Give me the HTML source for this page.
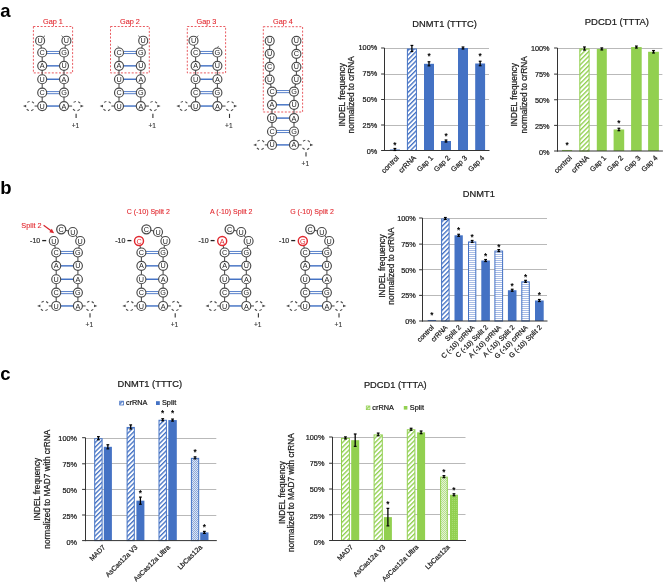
<!DOCTYPE html>
<html><head><meta charset="utf-8"><style>
html,body{margin:0;padding:0;background:#fff;}
svg{display:block;will-change:transform;filter:blur(0.4px);font-family:"Liberation Sans",sans-serif;}
</style></head><body>
<svg width="668" height="584" viewBox="0 0 668 584">
<rect width="668" height="584" fill="#fff"/>

<defs>
<pattern id="dB" width="3.3" height="3.3" patternUnits="userSpaceOnUse" patternTransform="rotate(45)"><rect width="1.35" height="3.3" fill="#4472c4"/></pattern>
<pattern id="dG" width="3.3" height="3.3" patternUnits="userSpaceOnUse" patternTransform="rotate(45)"><rect width="1.35" height="3.3" fill="#92d050"/></pattern>
<pattern id="hB" width="4" height="2" patternUnits="userSpaceOnUse"><rect width="4" height="1" fill="#a9bde6"/></pattern>
<pattern id="ckB" width="2" height="2" patternUnits="userSpaceOnUse"><rect width="2" height="2" fill="#dbe4f5"/><rect width="1" height="1" fill="#8eaadb"/><rect x="1" y="1" width="1" height="1" fill="#8eaadb"/></pattern>
<pattern id="ckG" width="2" height="2" patternUnits="userSpaceOnUse"><rect width="2" height="2" fill="#e4f3d5"/><rect width="1" height="1" fill="#b6e08c"/><rect x="1" y="1" width="1" height="1" fill="#b6e08c"/></pattern>
<pattern id="ckG2" width="2" height="2" patternUnits="userSpaceOnUse"><rect width="2" height="2" fill="#92d050"/><rect width="1" height="1" fill="#a7da72"/></pattern>
</defs>

<text x="0.3" y="17.2" font-size="18.5" fill="#000" text-anchor="start" font-weight="bold"  >a</text>
<text x="0.3" y="193.6" font-size="18.5" fill="#000" text-anchor="start" font-weight="bold"  >b</text>
<text x="0.3" y="380.2" font-size="18.5" fill="#000" text-anchor="start" font-weight="bold"  >c</text>
<rect x="33.4" y="26.5" width="39.2" height="46.4" fill="none" stroke="#e2282f" stroke-width="0.9" stroke-dasharray="2,1.6" opacity="0.85"/>
<text x="53" y="23.5" font-size="7.3" fill="#e2282f" text-anchor="middle" font-weight="normal" stroke="#e2282f" stroke-width="0.1" >Gap 1</text>
<line x1="34.6" y1="106.05" x2="42.2" y2="106.05" stroke="#4a4a4a" stroke-width="1.05" />
<line x1="72.1" y1="106.05" x2="64" y2="106.05" stroke="#4a4a4a" stroke-width="1.05" />
<circle cx="30.2" cy="106.05" r="4.65" fill="none" stroke="#4a4a4a" stroke-width="1.1" stroke-dasharray="2.43,2.43,2.43,7.3" stroke-dashoffset="-3.65"/>
<path d="M22.9,106.05 L26.2,104.7 L26.2,107.4 Z" fill="#4a4a4a"/>
<circle cx="76.5" cy="106.05" r="4.65" fill="none" stroke="#4a4a4a" stroke-width="1.1" stroke-dasharray="2.43,2.43,2.43,7.3" stroke-dashoffset="-3.65"/>
<path d="M83.8,106.05 L80.5,104.7 L80.5,107.4 Z" fill="#4a4a4a"/>
<line x1="40.1" y1="40.7" x2="42.2" y2="52.5" stroke="#4a4a4a" stroke-width="1.05" />
<line x1="66.4" y1="40.7" x2="64" y2="52.5" stroke="#4a4a4a" stroke-width="1.05" />
<line x1="42.2" y1="52.5" x2="42.2" y2="65.85" stroke="#4a4a4a" stroke-width="1.05" />
<line x1="64" y1="52.5" x2="64" y2="65.85" stroke="#4a4a4a" stroke-width="1.05" />
<line x1="42.2" y1="65.85" x2="42.2" y2="79.25" stroke="#4a4a4a" stroke-width="1.05" />
<line x1="64" y1="65.85" x2="64" y2="79.25" stroke="#4a4a4a" stroke-width="1.05" />
<line x1="42.2" y1="79.25" x2="42.2" y2="92.65" stroke="#4a4a4a" stroke-width="1.05" />
<line x1="64" y1="79.25" x2="64" y2="92.65" stroke="#4a4a4a" stroke-width="1.05" />
<line x1="42.2" y1="92.65" x2="42.2" y2="106.05" stroke="#4a4a4a" stroke-width="1.05" />
<line x1="64" y1="92.65" x2="64" y2="106.05" stroke="#4a4a4a" stroke-width="1.05" />
<line x1="46.7" y1="51.45" x2="59.5" y2="51.45" stroke="#4472c4" stroke-width="0.9" />
<line x1="46.7" y1="53.55" x2="59.5" y2="53.55" stroke="#4472c4" stroke-width="0.9" />
<line x1="46.7" y1="65.85" x2="59.5" y2="65.85" stroke="#4472c4" stroke-width="1.45" />
<line x1="46.7" y1="79.25" x2="59.5" y2="79.25" stroke="#4472c4" stroke-width="1.45" />
<line x1="46.7" y1="91.6" x2="59.5" y2="91.6" stroke="#4472c4" stroke-width="0.9" />
<line x1="46.7" y1="93.7" x2="59.5" y2="93.7" stroke="#4472c4" stroke-width="0.9" />
<line x1="46.7" y1="106.05" x2="59.5" y2="106.05" stroke="#4472c4" stroke-width="1.45" />
<circle cx="42.2" cy="52.5" r="4.5" fill="#fff" stroke="#4a4a4a" stroke-width="1.15"/>
<text x="42.2" y="55.05" font-size="7.25" fill="#1e1e1e" text-anchor="middle">C</text>
<circle cx="64" cy="52.5" r="4.5" fill="#fff" stroke="#4a4a4a" stroke-width="1.15"/>
<text x="64" y="55.05" font-size="7.25" fill="#1e1e1e" text-anchor="middle">G</text>
<circle cx="42.2" cy="65.85" r="4.5" fill="#fff" stroke="#4a4a4a" stroke-width="1.15"/>
<text x="42.2" y="68.4" font-size="7.25" fill="#1e1e1e" text-anchor="middle">A</text>
<circle cx="64" cy="65.85" r="4.5" fill="#fff" stroke="#4a4a4a" stroke-width="1.15"/>
<text x="64" y="68.4" font-size="7.25" fill="#1e1e1e" text-anchor="middle">U</text>
<circle cx="42.2" cy="79.25" r="4.5" fill="#fff" stroke="#4a4a4a" stroke-width="1.15"/>
<text x="42.2" y="81.8" font-size="7.25" fill="#1e1e1e" text-anchor="middle">U</text>
<circle cx="64" cy="79.25" r="4.5" fill="#fff" stroke="#4a4a4a" stroke-width="1.15"/>
<text x="64" y="81.8" font-size="7.25" fill="#1e1e1e" text-anchor="middle">A</text>
<circle cx="42.2" cy="92.65" r="4.5" fill="#fff" stroke="#4a4a4a" stroke-width="1.15"/>
<text x="42.2" y="95.2" font-size="7.25" fill="#1e1e1e" text-anchor="middle">C</text>
<circle cx="64" cy="92.65" r="4.5" fill="#fff" stroke="#4a4a4a" stroke-width="1.15"/>
<text x="64" y="95.2" font-size="7.25" fill="#1e1e1e" text-anchor="middle">G</text>
<circle cx="42.2" cy="106.05" r="4.5" fill="#fff" stroke="#4a4a4a" stroke-width="1.15"/>
<text x="42.2" y="108.6" font-size="7.25" fill="#1e1e1e" text-anchor="middle">U</text>
<circle cx="64" cy="106.05" r="4.5" fill="#fff" stroke="#4a4a4a" stroke-width="1.15"/>
<text x="64" y="108.6" font-size="7.25" fill="#1e1e1e" text-anchor="middle">A</text>
<circle cx="40.1" cy="40.7" r="4.5" fill="#fff" stroke="#4a4a4a" stroke-width="1.15"/>
<text x="40.1" y="43.25" font-size="7.25" fill="#1e1e1e" text-anchor="middle">U</text>
<path d="M43.3,37.3 q0.8,-0.96 1.6,-1.6" fill="none" stroke="#4a4a4a" stroke-width="0.9"/>
<circle cx="66.4" cy="40.7" r="4.5" fill="#fff" stroke="#4a4a4a" stroke-width="1.15"/>
<text x="66.4" y="43.25" font-size="7.25" fill="#1e1e1e" text-anchor="middle">U</text>
<path d="M63.2,37.3 q-0.8,-0.96 -1.6,-1.6" fill="none" stroke="#4a4a4a" stroke-width="0.9"/>
<line x1="76.1" y1="113.8" x2="76.1" y2="118" stroke="#333" stroke-width="1.1" />
<text x="75.4" y="127.6" font-size="6.6" fill="#333" text-anchor="middle" font-weight="normal" stroke="#333" stroke-width="0.12" >+1</text>
<rect x="110.5" y="26.5" width="38.8" height="46.4" fill="none" stroke="#e2282f" stroke-width="0.9" stroke-dasharray="2,1.6" opacity="0.85"/>
<text x="129.9" y="23.5" font-size="7.3" fill="#e2282f" text-anchor="middle" font-weight="normal" stroke="#e2282f" stroke-width="0.1" >Gap 2</text>
<line x1="111.4" y1="106.05" x2="119" y2="106.05" stroke="#4a4a4a" stroke-width="1.05" />
<line x1="148.9" y1="106.05" x2="140.8" y2="106.05" stroke="#4a4a4a" stroke-width="1.05" />
<circle cx="107" cy="106.05" r="4.65" fill="none" stroke="#4a4a4a" stroke-width="1.1" stroke-dasharray="2.43,2.43,2.43,7.3" stroke-dashoffset="-3.65"/>
<path d="M99.7,106.05 L103,104.7 L103,107.4 Z" fill="#4a4a4a"/>
<circle cx="153.3" cy="106.05" r="4.65" fill="none" stroke="#4a4a4a" stroke-width="1.1" stroke-dasharray="2.43,2.43,2.43,7.3" stroke-dashoffset="-3.65"/>
<path d="M160.6,106.05 L157.3,104.7 L157.3,107.4 Z" fill="#4a4a4a"/>
<line x1="143.2" y1="40.7" x2="140.8" y2="52.5" stroke="#4a4a4a" stroke-width="1.05" />
<line x1="119" y1="52.5" x2="119" y2="65.85" stroke="#4a4a4a" stroke-width="1.05" />
<line x1="140.8" y1="52.5" x2="140.8" y2="65.85" stroke="#4a4a4a" stroke-width="1.05" />
<line x1="119" y1="65.85" x2="119" y2="79.25" stroke="#4a4a4a" stroke-width="1.05" />
<line x1="140.8" y1="65.85" x2="140.8" y2="79.25" stroke="#4a4a4a" stroke-width="1.05" />
<line x1="119" y1="79.25" x2="119" y2="92.65" stroke="#4a4a4a" stroke-width="1.05" />
<line x1="140.8" y1="79.25" x2="140.8" y2="92.65" stroke="#4a4a4a" stroke-width="1.05" />
<line x1="119" y1="92.65" x2="119" y2="106.05" stroke="#4a4a4a" stroke-width="1.05" />
<line x1="140.8" y1="92.65" x2="140.8" y2="106.05" stroke="#4a4a4a" stroke-width="1.05" />
<line x1="123.5" y1="51.45" x2="136.3" y2="51.45" stroke="#4472c4" stroke-width="0.9" />
<line x1="123.5" y1="53.55" x2="136.3" y2="53.55" stroke="#4472c4" stroke-width="0.9" />
<line x1="123.5" y1="65.85" x2="136.3" y2="65.85" stroke="#4472c4" stroke-width="1.45" />
<line x1="123.5" y1="79.25" x2="136.3" y2="79.25" stroke="#4472c4" stroke-width="1.45" />
<line x1="123.5" y1="91.6" x2="136.3" y2="91.6" stroke="#4472c4" stroke-width="0.9" />
<line x1="123.5" y1="93.7" x2="136.3" y2="93.7" stroke="#4472c4" stroke-width="0.9" />
<line x1="123.5" y1="106.05" x2="136.3" y2="106.05" stroke="#4472c4" stroke-width="1.45" />
<circle cx="119" cy="52.5" r="4.5" fill="#fff" stroke="#4a4a4a" stroke-width="1.15"/>
<text x="119" y="55.05" font-size="7.25" fill="#1e1e1e" text-anchor="middle">C</text>
<circle cx="140.8" cy="52.5" r="4.5" fill="#fff" stroke="#4a4a4a" stroke-width="1.15"/>
<text x="140.8" y="55.05" font-size="7.25" fill="#1e1e1e" text-anchor="middle">G</text>
<circle cx="119" cy="65.85" r="4.5" fill="#fff" stroke="#4a4a4a" stroke-width="1.15"/>
<text x="119" y="68.4" font-size="7.25" fill="#1e1e1e" text-anchor="middle">A</text>
<circle cx="140.8" cy="65.85" r="4.5" fill="#fff" stroke="#4a4a4a" stroke-width="1.15"/>
<text x="140.8" y="68.4" font-size="7.25" fill="#1e1e1e" text-anchor="middle">U</text>
<circle cx="119" cy="79.25" r="4.5" fill="#fff" stroke="#4a4a4a" stroke-width="1.15"/>
<text x="119" y="81.8" font-size="7.25" fill="#1e1e1e" text-anchor="middle">U</text>
<circle cx="140.8" cy="79.25" r="4.5" fill="#fff" stroke="#4a4a4a" stroke-width="1.15"/>
<text x="140.8" y="81.8" font-size="7.25" fill="#1e1e1e" text-anchor="middle">A</text>
<circle cx="119" cy="92.65" r="4.5" fill="#fff" stroke="#4a4a4a" stroke-width="1.15"/>
<text x="119" y="95.2" font-size="7.25" fill="#1e1e1e" text-anchor="middle">C</text>
<circle cx="140.8" cy="92.65" r="4.5" fill="#fff" stroke="#4a4a4a" stroke-width="1.15"/>
<text x="140.8" y="95.2" font-size="7.25" fill="#1e1e1e" text-anchor="middle">G</text>
<circle cx="119" cy="106.05" r="4.5" fill="#fff" stroke="#4a4a4a" stroke-width="1.15"/>
<text x="119" y="108.6" font-size="7.25" fill="#1e1e1e" text-anchor="middle">U</text>
<circle cx="140.8" cy="106.05" r="4.5" fill="#fff" stroke="#4a4a4a" stroke-width="1.15"/>
<text x="140.8" y="108.6" font-size="7.25" fill="#1e1e1e" text-anchor="middle">A</text>
<path d="M119.5,47.9 q-0.9,-0.96 -1.8,-1.6" fill="none" stroke="#4a4a4a" stroke-width="0.9"/>
<circle cx="143.2" cy="40.7" r="4.5" fill="#fff" stroke="#4a4a4a" stroke-width="1.15"/>
<text x="143.2" y="43.25" font-size="7.25" fill="#1e1e1e" text-anchor="middle">U</text>
<path d="M140,37.3 q-0.8,-0.96 -1.6,-1.6" fill="none" stroke="#4a4a4a" stroke-width="0.9"/>
<line x1="152.9" y1="113.8" x2="152.9" y2="118" stroke="#333" stroke-width="1.1" />
<text x="152.2" y="127.6" font-size="6.6" fill="#333" text-anchor="middle" font-weight="normal" stroke="#333" stroke-width="0.12" >+1</text>
<rect x="187.3" y="26.5" width="38.3" height="46.4" fill="none" stroke="#e2282f" stroke-width="0.9" stroke-dasharray="2,1.6" opacity="0.85"/>
<text x="206.45" y="23.5" font-size="7.3" fill="#e2282f" text-anchor="middle" font-weight="normal" stroke="#e2282f" stroke-width="0.1" >Gap 3</text>
<line x1="188" y1="106.05" x2="195.6" y2="106.05" stroke="#4a4a4a" stroke-width="1.05" />
<line x1="225.5" y1="106.05" x2="217.4" y2="106.05" stroke="#4a4a4a" stroke-width="1.05" />
<circle cx="183.6" cy="106.05" r="4.65" fill="none" stroke="#4a4a4a" stroke-width="1.1" stroke-dasharray="2.43,2.43,2.43,7.3" stroke-dashoffset="-3.65"/>
<path d="M176.3,106.05 L179.6,104.7 L179.6,107.4 Z" fill="#4a4a4a"/>
<circle cx="229.9" cy="106.05" r="4.65" fill="none" stroke="#4a4a4a" stroke-width="1.1" stroke-dasharray="2.43,2.43,2.43,7.3" stroke-dashoffset="-3.65"/>
<path d="M237.2,106.05 L233.9,104.7 L233.9,107.4 Z" fill="#4a4a4a"/>
<line x1="193.5" y1="40.7" x2="195.6" y2="52.5" stroke="#4a4a4a" stroke-width="1.05" />
<line x1="195.6" y1="52.5" x2="195.6" y2="65.85" stroke="#4a4a4a" stroke-width="1.05" />
<line x1="217.4" y1="52.5" x2="217.4" y2="65.85" stroke="#4a4a4a" stroke-width="1.05" />
<line x1="195.6" y1="65.85" x2="195.6" y2="79.25" stroke="#4a4a4a" stroke-width="1.05" />
<line x1="217.4" y1="65.85" x2="217.4" y2="79.25" stroke="#4a4a4a" stroke-width="1.05" />
<line x1="195.6" y1="79.25" x2="195.6" y2="92.65" stroke="#4a4a4a" stroke-width="1.05" />
<line x1="217.4" y1="79.25" x2="217.4" y2="92.65" stroke="#4a4a4a" stroke-width="1.05" />
<line x1="195.6" y1="92.65" x2="195.6" y2="106.05" stroke="#4a4a4a" stroke-width="1.05" />
<line x1="217.4" y1="92.65" x2="217.4" y2="106.05" stroke="#4a4a4a" stroke-width="1.05" />
<line x1="200.1" y1="51.45" x2="212.9" y2="51.45" stroke="#4472c4" stroke-width="0.9" />
<line x1="200.1" y1="53.55" x2="212.9" y2="53.55" stroke="#4472c4" stroke-width="0.9" />
<line x1="200.1" y1="65.85" x2="212.9" y2="65.85" stroke="#4472c4" stroke-width="1.45" />
<line x1="200.1" y1="79.25" x2="212.9" y2="79.25" stroke="#4472c4" stroke-width="1.45" />
<line x1="200.1" y1="91.6" x2="212.9" y2="91.6" stroke="#4472c4" stroke-width="0.9" />
<line x1="200.1" y1="93.7" x2="212.9" y2="93.7" stroke="#4472c4" stroke-width="0.9" />
<line x1="200.1" y1="106.05" x2="212.9" y2="106.05" stroke="#4472c4" stroke-width="1.45" />
<circle cx="195.6" cy="52.5" r="4.5" fill="#fff" stroke="#4a4a4a" stroke-width="1.15"/>
<text x="195.6" y="55.05" font-size="7.25" fill="#1e1e1e" text-anchor="middle">C</text>
<circle cx="217.4" cy="52.5" r="4.5" fill="#fff" stroke="#4a4a4a" stroke-width="1.15"/>
<text x="217.4" y="55.05" font-size="7.25" fill="#1e1e1e" text-anchor="middle">G</text>
<circle cx="195.6" cy="65.85" r="4.5" fill="#fff" stroke="#4a4a4a" stroke-width="1.15"/>
<text x="195.6" y="68.4" font-size="7.25" fill="#1e1e1e" text-anchor="middle">A</text>
<circle cx="217.4" cy="65.85" r="4.5" fill="#fff" stroke="#4a4a4a" stroke-width="1.15"/>
<text x="217.4" y="68.4" font-size="7.25" fill="#1e1e1e" text-anchor="middle">U</text>
<circle cx="195.6" cy="79.25" r="4.5" fill="#fff" stroke="#4a4a4a" stroke-width="1.15"/>
<text x="195.6" y="81.8" font-size="7.25" fill="#1e1e1e" text-anchor="middle">U</text>
<circle cx="217.4" cy="79.25" r="4.5" fill="#fff" stroke="#4a4a4a" stroke-width="1.15"/>
<text x="217.4" y="81.8" font-size="7.25" fill="#1e1e1e" text-anchor="middle">A</text>
<circle cx="195.6" cy="92.65" r="4.5" fill="#fff" stroke="#4a4a4a" stroke-width="1.15"/>
<text x="195.6" y="95.2" font-size="7.25" fill="#1e1e1e" text-anchor="middle">C</text>
<circle cx="217.4" cy="92.65" r="4.5" fill="#fff" stroke="#4a4a4a" stroke-width="1.15"/>
<text x="217.4" y="95.2" font-size="7.25" fill="#1e1e1e" text-anchor="middle">G</text>
<circle cx="195.6" cy="106.05" r="4.5" fill="#fff" stroke="#4a4a4a" stroke-width="1.15"/>
<text x="195.6" y="108.6" font-size="7.25" fill="#1e1e1e" text-anchor="middle">U</text>
<circle cx="217.4" cy="106.05" r="4.5" fill="#fff" stroke="#4a4a4a" stroke-width="1.15"/>
<text x="217.4" y="108.6" font-size="7.25" fill="#1e1e1e" text-anchor="middle">A</text>
<circle cx="193.5" cy="40.7" r="4.5" fill="#fff" stroke="#4a4a4a" stroke-width="1.15"/>
<text x="193.5" y="43.25" font-size="7.25" fill="#1e1e1e" text-anchor="middle">U</text>
<path d="M196.7,37.3 q0.8,-0.96 1.6,-1.6" fill="none" stroke="#4a4a4a" stroke-width="0.9"/>
<path d="M216.9,47.9 q0.9,-0.96 1.8,-1.6" fill="none" stroke="#4a4a4a" stroke-width="0.9"/>
<line x1="229.5" y1="113.8" x2="229.5" y2="118" stroke="#333" stroke-width="1.1" />
<text x="228.8" y="127.6" font-size="6.6" fill="#333" text-anchor="middle" font-weight="normal" stroke="#333" stroke-width="0.12" >+1</text>
<rect x="263.3" y="26.7" width="39.3" height="85.3" fill="none" stroke="#e2282f" stroke-width="0.9" stroke-dasharray="2,1.6" opacity="0.85"/>
<text x="283" y="23.5" font-size="7.3" fill="#e2282f" text-anchor="middle" font-weight="normal" stroke="#e2282f" stroke-width="0.1" >Gap 4</text>
<line x1="264.8" y1="144.9" x2="272" y2="144.9" stroke="#4a4a4a" stroke-width="1.05" />
<line x1="301.6" y1="144.9" x2="294" y2="144.9" stroke="#4a4a4a" stroke-width="1.05" />
<circle cx="260.4" cy="144.9" r="4.65" fill="none" stroke="#4a4a4a" stroke-width="1.1" stroke-dasharray="2.43,2.43,2.43,7.3" stroke-dashoffset="-3.65"/>
<path d="M253.1,144.9 L256.4,143.55 L256.4,146.25 Z" fill="#4a4a4a"/>
<circle cx="306" cy="144.9" r="4.65" fill="none" stroke="#4a4a4a" stroke-width="1.1" stroke-dasharray="2.43,2.43,2.43,7.3" stroke-dashoffset="-3.65"/>
<path d="M313.3,144.9 L310,143.55 L310,146.25 Z" fill="#4a4a4a"/>
<line x1="269.7" y1="40.8" x2="269.7" y2="53.8" stroke="#4a4a4a" stroke-width="1.05" />
<line x1="296.4" y1="40.8" x2="296.4" y2="53.8" stroke="#4a4a4a" stroke-width="1.05" />
<line x1="269.7" y1="53.8" x2="269.7" y2="66.8" stroke="#4a4a4a" stroke-width="1.05" />
<line x1="296.4" y1="53.8" x2="296.4" y2="66.8" stroke="#4a4a4a" stroke-width="1.05" />
<line x1="269.7" y1="66.8" x2="269.7" y2="79.6" stroke="#4a4a4a" stroke-width="1.05" />
<line x1="296.4" y1="66.8" x2="296.4" y2="79.6" stroke="#4a4a4a" stroke-width="1.05" />
<line x1="269.7" y1="79.6" x2="272" y2="91.6" stroke="#4a4a4a" stroke-width="1.05" />
<line x1="296.4" y1="79.6" x2="294" y2="91.6" stroke="#4a4a4a" stroke-width="1.05" />
<line x1="272" y1="91.6" x2="272" y2="104.8" stroke="#4a4a4a" stroke-width="1.05" />
<line x1="294" y1="91.6" x2="294" y2="104.8" stroke="#4a4a4a" stroke-width="1.05" />
<line x1="272" y1="104.8" x2="272" y2="118.1" stroke="#4a4a4a" stroke-width="1.05" />
<line x1="294" y1="104.8" x2="294" y2="118.1" stroke="#4a4a4a" stroke-width="1.05" />
<line x1="272" y1="118.1" x2="272" y2="131.5" stroke="#4a4a4a" stroke-width="1.05" />
<line x1="294" y1="118.1" x2="294" y2="131.5" stroke="#4a4a4a" stroke-width="1.05" />
<line x1="272" y1="131.5" x2="272" y2="144.9" stroke="#4a4a4a" stroke-width="1.05" />
<line x1="294" y1="131.5" x2="294" y2="144.9" stroke="#4a4a4a" stroke-width="1.05" />
<line x1="276.5" y1="90.55" x2="289.5" y2="90.55" stroke="#4472c4" stroke-width="0.9" />
<line x1="276.5" y1="92.65" x2="289.5" y2="92.65" stroke="#4472c4" stroke-width="0.9" />
<line x1="276.5" y1="104.8" x2="289.5" y2="104.8" stroke="#4472c4" stroke-width="1.45" />
<line x1="276.5" y1="118.1" x2="289.5" y2="118.1" stroke="#4472c4" stroke-width="1.45" />
<line x1="276.5" y1="130.45" x2="289.5" y2="130.45" stroke="#4472c4" stroke-width="0.9" />
<line x1="276.5" y1="132.55" x2="289.5" y2="132.55" stroke="#4472c4" stroke-width="0.9" />
<line x1="276.5" y1="144.9" x2="289.5" y2="144.9" stroke="#4472c4" stroke-width="1.45" />
<circle cx="269.7" cy="40.8" r="4.5" fill="#fff" stroke="#4a4a4a" stroke-width="1.15"/>
<text x="269.7" y="43.35" font-size="7.25" fill="#1e1e1e" text-anchor="middle">U</text>
<circle cx="269.7" cy="53.8" r="4.5" fill="#fff" stroke="#4a4a4a" stroke-width="1.15"/>
<text x="269.7" y="56.35" font-size="7.25" fill="#1e1e1e" text-anchor="middle">U</text>
<circle cx="269.7" cy="66.8" r="4.5" fill="#fff" stroke="#4a4a4a" stroke-width="1.15"/>
<text x="269.7" y="69.35" font-size="7.25" fill="#1e1e1e" text-anchor="middle">C</text>
<circle cx="269.7" cy="79.6" r="4.5" fill="#fff" stroke="#4a4a4a" stroke-width="1.15"/>
<text x="269.7" y="82.15" font-size="7.25" fill="#1e1e1e" text-anchor="middle">U</text>
<circle cx="296.4" cy="40.8" r="4.5" fill="#fff" stroke="#4a4a4a" stroke-width="1.15"/>
<text x="296.4" y="43.35" font-size="7.25" fill="#1e1e1e" text-anchor="middle">U</text>
<circle cx="296.4" cy="53.8" r="4.5" fill="#fff" stroke="#4a4a4a" stroke-width="1.15"/>
<text x="296.4" y="56.35" font-size="7.25" fill="#1e1e1e" text-anchor="middle">C</text>
<circle cx="296.4" cy="66.8" r="4.5" fill="#fff" stroke="#4a4a4a" stroke-width="1.15"/>
<text x="296.4" y="69.35" font-size="7.25" fill="#1e1e1e" text-anchor="middle">U</text>
<circle cx="296.4" cy="79.6" r="4.5" fill="#fff" stroke="#4a4a4a" stroke-width="1.15"/>
<text x="296.4" y="82.15" font-size="7.25" fill="#1e1e1e" text-anchor="middle">U</text>
<circle cx="272" cy="91.6" r="4.5" fill="#fff" stroke="#4a4a4a" stroke-width="1.15"/>
<text x="272" y="94.15" font-size="7.25" fill="#1e1e1e" text-anchor="middle">C</text>
<circle cx="294" cy="91.6" r="4.5" fill="#fff" stroke="#4a4a4a" stroke-width="1.15"/>
<text x="294" y="94.15" font-size="7.25" fill="#1e1e1e" text-anchor="middle">G</text>
<circle cx="272" cy="104.8" r="4.5" fill="#fff" stroke="#4a4a4a" stroke-width="1.15"/>
<text x="272" y="107.35" font-size="7.25" fill="#1e1e1e" text-anchor="middle">A</text>
<circle cx="294" cy="104.8" r="4.5" fill="#fff" stroke="#4a4a4a" stroke-width="1.15"/>
<text x="294" y="107.35" font-size="7.25" fill="#1e1e1e" text-anchor="middle">U</text>
<circle cx="272" cy="118.1" r="4.5" fill="#fff" stroke="#4a4a4a" stroke-width="1.15"/>
<text x="272" y="120.65" font-size="7.25" fill="#1e1e1e" text-anchor="middle">U</text>
<circle cx="294" cy="118.1" r="4.5" fill="#fff" stroke="#4a4a4a" stroke-width="1.15"/>
<text x="294" y="120.65" font-size="7.25" fill="#1e1e1e" text-anchor="middle">A</text>
<circle cx="272" cy="131.5" r="4.5" fill="#fff" stroke="#4a4a4a" stroke-width="1.15"/>
<text x="272" y="134.05" font-size="7.25" fill="#1e1e1e" text-anchor="middle">C</text>
<circle cx="294" cy="131.5" r="4.5" fill="#fff" stroke="#4a4a4a" stroke-width="1.15"/>
<text x="294" y="134.05" font-size="7.25" fill="#1e1e1e" text-anchor="middle">G</text>
<circle cx="272" cy="144.9" r="4.5" fill="#fff" stroke="#4a4a4a" stroke-width="1.15"/>
<text x="272" y="147.45" font-size="7.25" fill="#1e1e1e" text-anchor="middle">U</text>
<circle cx="294" cy="144.9" r="4.5" fill="#fff" stroke="#4a4a4a" stroke-width="1.15"/>
<text x="294" y="147.45" font-size="7.25" fill="#1e1e1e" text-anchor="middle">A</text>
<line x1="306" y1="152.3" x2="306" y2="156.5" stroke="#333" stroke-width="1.1" />
<text x="305.3" y="166" font-size="6.6" fill="#333" text-anchor="middle" font-weight="normal" stroke="#333" stroke-width="0.12" >+1</text>
<line x1="48.8" y1="305.95" x2="56.2" y2="305.95" stroke="#4a4a4a" stroke-width="1.05" />
<line x1="85.6" y1="305.95" x2="77.9" y2="305.95" stroke="#4a4a4a" stroke-width="1.05" />
<circle cx="44.4" cy="305.95" r="4.65" fill="none" stroke="#4a4a4a" stroke-width="1.1" stroke-dasharray="2.43,2.43,2.43,7.3" stroke-dashoffset="-3.65"/>
<path d="M37.1,305.95 L40.4,304.6 L40.4,307.3 Z" fill="#4a4a4a"/>
<circle cx="90" cy="305.95" r="4.65" fill="none" stroke="#4a4a4a" stroke-width="1.1" stroke-dasharray="2.43,2.43,2.43,7.3" stroke-dashoffset="-3.65"/>
<path d="M97.3,305.95 L94,304.6 L94,307.3 Z" fill="#4a4a4a"/>
<line x1="53.8" y1="241" x2="56.2" y2="252.5" stroke="#4a4a4a" stroke-width="1.05" />
<line x1="61.2" y1="229.3" x2="72.8" y2="232" stroke="#4a4a4a" stroke-width="1.05" />
<line x1="72.8" y1="232" x2="80.2" y2="241" stroke="#4a4a4a" stroke-width="1.05" />
<line x1="80.2" y1="241" x2="77.9" y2="252.5" stroke="#4a4a4a" stroke-width="1.05" />
<line x1="56.2" y1="252.5" x2="56.2" y2="265.85" stroke="#4a4a4a" stroke-width="1.05" />
<line x1="77.9" y1="252.5" x2="77.9" y2="265.85" stroke="#4a4a4a" stroke-width="1.05" />
<line x1="56.2" y1="265.85" x2="56.2" y2="279.25" stroke="#4a4a4a" stroke-width="1.05" />
<line x1="77.9" y1="265.85" x2="77.9" y2="279.25" stroke="#4a4a4a" stroke-width="1.05" />
<line x1="56.2" y1="279.25" x2="56.2" y2="292.6" stroke="#4a4a4a" stroke-width="1.05" />
<line x1="77.9" y1="279.25" x2="77.9" y2="292.6" stroke="#4a4a4a" stroke-width="1.05" />
<line x1="56.2" y1="292.6" x2="56.2" y2="305.95" stroke="#4a4a4a" stroke-width="1.05" />
<line x1="77.9" y1="292.6" x2="77.9" y2="305.95" stroke="#4a4a4a" stroke-width="1.05" />
<line x1="60.7" y1="251.45" x2="73.4" y2="251.45" stroke="#4472c4" stroke-width="0.9" />
<line x1="60.7" y1="253.55" x2="73.4" y2="253.55" stroke="#4472c4" stroke-width="0.9" />
<line x1="60.7" y1="265.85" x2="73.4" y2="265.85" stroke="#4472c4" stroke-width="1.45" />
<line x1="60.7" y1="279.25" x2="73.4" y2="279.25" stroke="#4472c4" stroke-width="1.45" />
<line x1="60.7" y1="291.55" x2="73.4" y2="291.55" stroke="#4472c4" stroke-width="0.9" />
<line x1="60.7" y1="293.65" x2="73.4" y2="293.65" stroke="#4472c4" stroke-width="0.9" />
<line x1="60.7" y1="305.95" x2="73.4" y2="305.95" stroke="#4472c4" stroke-width="1.45" />
<circle cx="56.2" cy="252.5" r="4.5" fill="#fff" stroke="#4a4a4a" stroke-width="1.15"/>
<text x="56.2" y="255.05" font-size="7.25" fill="#1e1e1e" text-anchor="middle">C</text>
<circle cx="77.9" cy="252.5" r="4.5" fill="#fff" stroke="#4a4a4a" stroke-width="1.15"/>
<text x="77.9" y="255.05" font-size="7.25" fill="#1e1e1e" text-anchor="middle">G</text>
<circle cx="56.2" cy="265.85" r="4.5" fill="#fff" stroke="#4a4a4a" stroke-width="1.15"/>
<text x="56.2" y="268.4" font-size="7.25" fill="#1e1e1e" text-anchor="middle">A</text>
<circle cx="77.9" cy="265.85" r="4.5" fill="#fff" stroke="#4a4a4a" stroke-width="1.15"/>
<text x="77.9" y="268.4" font-size="7.25" fill="#1e1e1e" text-anchor="middle">U</text>
<circle cx="56.2" cy="279.25" r="4.5" fill="#fff" stroke="#4a4a4a" stroke-width="1.15"/>
<text x="56.2" y="281.8" font-size="7.25" fill="#1e1e1e" text-anchor="middle">U</text>
<circle cx="77.9" cy="279.25" r="4.5" fill="#fff" stroke="#4a4a4a" stroke-width="1.15"/>
<text x="77.9" y="281.8" font-size="7.25" fill="#1e1e1e" text-anchor="middle">A</text>
<circle cx="56.2" cy="292.6" r="4.5" fill="#fff" stroke="#4a4a4a" stroke-width="1.15"/>
<text x="56.2" y="295.15" font-size="7.25" fill="#1e1e1e" text-anchor="middle">C</text>
<circle cx="77.9" cy="292.6" r="4.5" fill="#fff" stroke="#4a4a4a" stroke-width="1.15"/>
<text x="77.9" y="295.15" font-size="7.25" fill="#1e1e1e" text-anchor="middle">G</text>
<circle cx="56.2" cy="305.95" r="4.5" fill="#fff" stroke="#4a4a4a" stroke-width="1.15"/>
<text x="56.2" y="308.5" font-size="7.25" fill="#1e1e1e" text-anchor="middle">U</text>
<circle cx="77.9" cy="305.95" r="4.5" fill="#fff" stroke="#4a4a4a" stroke-width="1.15"/>
<text x="77.9" y="308.5" font-size="7.25" fill="#1e1e1e" text-anchor="middle">A</text>
<circle cx="61.2" cy="229.3" r="4.5" fill="#fff" stroke="#4a4a4a" stroke-width="1.3"/>
<text x="61.2" y="231.85" font-size="7.25" fill="#1e1e1e" text-anchor="middle">C</text>
<circle cx="72.8" cy="232" r="4.5" fill="#fff" stroke="#4a4a4a" stroke-width="1.15"/>
<text x="72.8" y="234.55" font-size="7.25" fill="#1e1e1e" text-anchor="middle">U</text>
<circle cx="80.2" cy="241" r="4.5" fill="#fff" stroke="#4a4a4a" stroke-width="1.15"/>
<text x="80.2" y="243.55" font-size="7.25" fill="#1e1e1e" text-anchor="middle">U</text>
<circle cx="53.8" cy="241" r="4.5" fill="#fff" stroke="#4a4a4a" stroke-width="1.15"/>
<text x="53.8" y="243.55" font-size="7.25" fill="#1e1e1e" text-anchor="middle">U</text>
<text x="40.2" y="243.4" font-size="7.0" fill="#333" text-anchor="end" font-weight="normal" stroke="#333" stroke-width="0.22" >-10</text>
<line x1="42.2" y1="240.6" x2="46.2" y2="240.6" stroke="#222" stroke-width="1.3" />
<line x1="90" y1="313.3" x2="90" y2="317.5" stroke="#333" stroke-width="1.1" />
<text x="89.3" y="326.6" font-size="6.6" fill="#333" text-anchor="middle" font-weight="normal" stroke="#333" stroke-width="0.12" >+1</text>
<line x1="134" y1="305.95" x2="141.4" y2="305.95" stroke="#4a4a4a" stroke-width="1.05" />
<line x1="170.8" y1="305.95" x2="163.1" y2="305.95" stroke="#4a4a4a" stroke-width="1.05" />
<circle cx="129.6" cy="305.95" r="4.65" fill="none" stroke="#4a4a4a" stroke-width="1.1" stroke-dasharray="2.43,2.43,2.43,7.3" stroke-dashoffset="-3.65"/>
<path d="M122.3,305.95 L125.6,304.6 L125.6,307.3 Z" fill="#4a4a4a"/>
<circle cx="175.2" cy="305.95" r="4.65" fill="none" stroke="#4a4a4a" stroke-width="1.1" stroke-dasharray="2.43,2.43,2.43,7.3" stroke-dashoffset="-3.65"/>
<path d="M182.5,305.95 L179.2,304.6 L179.2,307.3 Z" fill="#4a4a4a"/>
<line x1="139" y1="241" x2="141.4" y2="252.5" stroke="#4a4a4a" stroke-width="1.05" />
<line x1="146.4" y1="229.3" x2="158" y2="232" stroke="#4a4a4a" stroke-width="1.05" />
<line x1="158" y1="232" x2="165.4" y2="241" stroke="#4a4a4a" stroke-width="1.05" />
<line x1="165.4" y1="241" x2="163.1" y2="252.5" stroke="#4a4a4a" stroke-width="1.05" />
<line x1="141.4" y1="252.5" x2="141.4" y2="265.85" stroke="#4a4a4a" stroke-width="1.05" />
<line x1="163.1" y1="252.5" x2="163.1" y2="265.85" stroke="#4a4a4a" stroke-width="1.05" />
<line x1="141.4" y1="265.85" x2="141.4" y2="279.25" stroke="#4a4a4a" stroke-width="1.05" />
<line x1="163.1" y1="265.85" x2="163.1" y2="279.25" stroke="#4a4a4a" stroke-width="1.05" />
<line x1="141.4" y1="279.25" x2="141.4" y2="292.6" stroke="#4a4a4a" stroke-width="1.05" />
<line x1="163.1" y1="279.25" x2="163.1" y2="292.6" stroke="#4a4a4a" stroke-width="1.05" />
<line x1="141.4" y1="292.6" x2="141.4" y2="305.95" stroke="#4a4a4a" stroke-width="1.05" />
<line x1="163.1" y1="292.6" x2="163.1" y2="305.95" stroke="#4a4a4a" stroke-width="1.05" />
<line x1="145.9" y1="251.45" x2="158.6" y2="251.45" stroke="#4472c4" stroke-width="0.9" />
<line x1="145.9" y1="253.55" x2="158.6" y2="253.55" stroke="#4472c4" stroke-width="0.9" />
<line x1="145.9" y1="265.85" x2="158.6" y2="265.85" stroke="#4472c4" stroke-width="1.45" />
<line x1="145.9" y1="279.25" x2="158.6" y2="279.25" stroke="#4472c4" stroke-width="1.45" />
<line x1="145.9" y1="291.55" x2="158.6" y2="291.55" stroke="#4472c4" stroke-width="0.9" />
<line x1="145.9" y1="293.65" x2="158.6" y2="293.65" stroke="#4472c4" stroke-width="0.9" />
<line x1="145.9" y1="305.95" x2="158.6" y2="305.95" stroke="#4472c4" stroke-width="1.45" />
<circle cx="141.4" cy="252.5" r="4.5" fill="#fff" stroke="#4a4a4a" stroke-width="1.15"/>
<text x="141.4" y="255.05" font-size="7.25" fill="#1e1e1e" text-anchor="middle">C</text>
<circle cx="163.1" cy="252.5" r="4.5" fill="#fff" stroke="#4a4a4a" stroke-width="1.15"/>
<text x="163.1" y="255.05" font-size="7.25" fill="#1e1e1e" text-anchor="middle">G</text>
<circle cx="141.4" cy="265.85" r="4.5" fill="#fff" stroke="#4a4a4a" stroke-width="1.15"/>
<text x="141.4" y="268.4" font-size="7.25" fill="#1e1e1e" text-anchor="middle">A</text>
<circle cx="163.1" cy="265.85" r="4.5" fill="#fff" stroke="#4a4a4a" stroke-width="1.15"/>
<text x="163.1" y="268.4" font-size="7.25" fill="#1e1e1e" text-anchor="middle">U</text>
<circle cx="141.4" cy="279.25" r="4.5" fill="#fff" stroke="#4a4a4a" stroke-width="1.15"/>
<text x="141.4" y="281.8" font-size="7.25" fill="#1e1e1e" text-anchor="middle">U</text>
<circle cx="163.1" cy="279.25" r="4.5" fill="#fff" stroke="#4a4a4a" stroke-width="1.15"/>
<text x="163.1" y="281.8" font-size="7.25" fill="#1e1e1e" text-anchor="middle">A</text>
<circle cx="141.4" cy="292.6" r="4.5" fill="#fff" stroke="#4a4a4a" stroke-width="1.15"/>
<text x="141.4" y="295.15" font-size="7.25" fill="#1e1e1e" text-anchor="middle">C</text>
<circle cx="163.1" cy="292.6" r="4.5" fill="#fff" stroke="#4a4a4a" stroke-width="1.15"/>
<text x="163.1" y="295.15" font-size="7.25" fill="#1e1e1e" text-anchor="middle">G</text>
<circle cx="141.4" cy="305.95" r="4.5" fill="#fff" stroke="#4a4a4a" stroke-width="1.15"/>
<text x="141.4" y="308.5" font-size="7.25" fill="#1e1e1e" text-anchor="middle">U</text>
<circle cx="163.1" cy="305.95" r="4.5" fill="#fff" stroke="#4a4a4a" stroke-width="1.15"/>
<text x="163.1" y="308.5" font-size="7.25" fill="#1e1e1e" text-anchor="middle">A</text>
<circle cx="146.4" cy="229.3" r="4.5" fill="#fff" stroke="#4a4a4a" stroke-width="1.3"/>
<text x="146.4" y="231.85" font-size="7.25" fill="#1e1e1e" text-anchor="middle">C</text>
<circle cx="158" cy="232" r="4.5" fill="#fff" stroke="#4a4a4a" stroke-width="1.15"/>
<text x="158" y="234.55" font-size="7.25" fill="#1e1e1e" text-anchor="middle">U</text>
<circle cx="165.4" cy="241" r="4.5" fill="#fff" stroke="#4a4a4a" stroke-width="1.15"/>
<text x="165.4" y="243.55" font-size="7.25" fill="#1e1e1e" text-anchor="middle">U</text>
<circle cx="139" cy="241" r="4.5" fill="#fff" stroke="#e2282f" stroke-width="1.45"/>
<text x="139" y="243.55" font-size="7.25" fill="#e2282f" text-anchor="middle">C</text>
<text x="125.4" y="243.4" font-size="7.0" fill="#333" text-anchor="end" font-weight="normal" stroke="#333" stroke-width="0.22" >-10</text>
<line x1="127.4" y1="240.6" x2="131.4" y2="240.6" stroke="#222" stroke-width="1.3" />
<line x1="175.2" y1="313.3" x2="175.2" y2="317.5" stroke="#333" stroke-width="1.1" />
<text x="174.5" y="326.6" font-size="6.6" fill="#333" text-anchor="middle" font-weight="normal" stroke="#333" stroke-width="0.12" >+1</text>
<text x="148.3" y="214.2" font-size="7.0" fill="#e2282f" text-anchor="middle" font-weight="normal" stroke="#e2282f" stroke-width="0.1" >C (-10) Split 2</text>
<line x1="217.2" y1="305.95" x2="224.6" y2="305.95" stroke="#4a4a4a" stroke-width="1.05" />
<line x1="254" y1="305.95" x2="246.3" y2="305.95" stroke="#4a4a4a" stroke-width="1.05" />
<circle cx="212.8" cy="305.95" r="4.65" fill="none" stroke="#4a4a4a" stroke-width="1.1" stroke-dasharray="2.43,2.43,2.43,7.3" stroke-dashoffset="-3.65"/>
<path d="M205.5,305.95 L208.8,304.6 L208.8,307.3 Z" fill="#4a4a4a"/>
<circle cx="258.4" cy="305.95" r="4.65" fill="none" stroke="#4a4a4a" stroke-width="1.1" stroke-dasharray="2.43,2.43,2.43,7.3" stroke-dashoffset="-3.65"/>
<path d="M265.7,305.95 L262.4,304.6 L262.4,307.3 Z" fill="#4a4a4a"/>
<line x1="222.2" y1="241" x2="224.6" y2="252.5" stroke="#4a4a4a" stroke-width="1.05" />
<line x1="229.6" y1="229.3" x2="241.2" y2="232" stroke="#4a4a4a" stroke-width="1.05" />
<line x1="241.2" y1="232" x2="248.6" y2="241" stroke="#4a4a4a" stroke-width="1.05" />
<line x1="248.6" y1="241" x2="246.3" y2="252.5" stroke="#4a4a4a" stroke-width="1.05" />
<line x1="224.6" y1="252.5" x2="224.6" y2="265.85" stroke="#4a4a4a" stroke-width="1.05" />
<line x1="246.3" y1="252.5" x2="246.3" y2="265.85" stroke="#4a4a4a" stroke-width="1.05" />
<line x1="224.6" y1="265.85" x2="224.6" y2="279.25" stroke="#4a4a4a" stroke-width="1.05" />
<line x1="246.3" y1="265.85" x2="246.3" y2="279.25" stroke="#4a4a4a" stroke-width="1.05" />
<line x1="224.6" y1="279.25" x2="224.6" y2="292.6" stroke="#4a4a4a" stroke-width="1.05" />
<line x1="246.3" y1="279.25" x2="246.3" y2="292.6" stroke="#4a4a4a" stroke-width="1.05" />
<line x1="224.6" y1="292.6" x2="224.6" y2="305.95" stroke="#4a4a4a" stroke-width="1.05" />
<line x1="246.3" y1="292.6" x2="246.3" y2="305.95" stroke="#4a4a4a" stroke-width="1.05" />
<line x1="229.1" y1="251.45" x2="241.8" y2="251.45" stroke="#4472c4" stroke-width="0.9" />
<line x1="229.1" y1="253.55" x2="241.8" y2="253.55" stroke="#4472c4" stroke-width="0.9" />
<line x1="229.1" y1="265.85" x2="241.8" y2="265.85" stroke="#4472c4" stroke-width="1.45" />
<line x1="229.1" y1="279.25" x2="241.8" y2="279.25" stroke="#4472c4" stroke-width="1.45" />
<line x1="229.1" y1="291.55" x2="241.8" y2="291.55" stroke="#4472c4" stroke-width="0.9" />
<line x1="229.1" y1="293.65" x2="241.8" y2="293.65" stroke="#4472c4" stroke-width="0.9" />
<line x1="229.1" y1="305.95" x2="241.8" y2="305.95" stroke="#4472c4" stroke-width="1.45" />
<circle cx="224.6" cy="252.5" r="4.5" fill="#fff" stroke="#4a4a4a" stroke-width="1.15"/>
<text x="224.6" y="255.05" font-size="7.25" fill="#1e1e1e" text-anchor="middle">C</text>
<circle cx="246.3" cy="252.5" r="4.5" fill="#fff" stroke="#4a4a4a" stroke-width="1.15"/>
<text x="246.3" y="255.05" font-size="7.25" fill="#1e1e1e" text-anchor="middle">G</text>
<circle cx="224.6" cy="265.85" r="4.5" fill="#fff" stroke="#4a4a4a" stroke-width="1.15"/>
<text x="224.6" y="268.4" font-size="7.25" fill="#1e1e1e" text-anchor="middle">A</text>
<circle cx="246.3" cy="265.85" r="4.5" fill="#fff" stroke="#4a4a4a" stroke-width="1.15"/>
<text x="246.3" y="268.4" font-size="7.25" fill="#1e1e1e" text-anchor="middle">U</text>
<circle cx="224.6" cy="279.25" r="4.5" fill="#fff" stroke="#4a4a4a" stroke-width="1.15"/>
<text x="224.6" y="281.8" font-size="7.25" fill="#1e1e1e" text-anchor="middle">U</text>
<circle cx="246.3" cy="279.25" r="4.5" fill="#fff" stroke="#4a4a4a" stroke-width="1.15"/>
<text x="246.3" y="281.8" font-size="7.25" fill="#1e1e1e" text-anchor="middle">A</text>
<circle cx="224.6" cy="292.6" r="4.5" fill="#fff" stroke="#4a4a4a" stroke-width="1.15"/>
<text x="224.6" y="295.15" font-size="7.25" fill="#1e1e1e" text-anchor="middle">C</text>
<circle cx="246.3" cy="292.6" r="4.5" fill="#fff" stroke="#4a4a4a" stroke-width="1.15"/>
<text x="246.3" y="295.15" font-size="7.25" fill="#1e1e1e" text-anchor="middle">G</text>
<circle cx="224.6" cy="305.95" r="4.5" fill="#fff" stroke="#4a4a4a" stroke-width="1.15"/>
<text x="224.6" y="308.5" font-size="7.25" fill="#1e1e1e" text-anchor="middle">U</text>
<circle cx="246.3" cy="305.95" r="4.5" fill="#fff" stroke="#4a4a4a" stroke-width="1.15"/>
<text x="246.3" y="308.5" font-size="7.25" fill="#1e1e1e" text-anchor="middle">A</text>
<circle cx="229.6" cy="229.3" r="4.5" fill="#fff" stroke="#4a4a4a" stroke-width="1.3"/>
<text x="229.6" y="231.85" font-size="7.25" fill="#1e1e1e" text-anchor="middle">C</text>
<circle cx="241.2" cy="232" r="4.5" fill="#fff" stroke="#4a4a4a" stroke-width="1.15"/>
<text x="241.2" y="234.55" font-size="7.25" fill="#1e1e1e" text-anchor="middle">U</text>
<circle cx="248.6" cy="241" r="4.5" fill="#fff" stroke="#4a4a4a" stroke-width="1.15"/>
<text x="248.6" y="243.55" font-size="7.25" fill="#1e1e1e" text-anchor="middle">U</text>
<circle cx="222.2" cy="241" r="4.5" fill="#fff" stroke="#e2282f" stroke-width="1.45"/>
<text x="222.2" y="243.55" font-size="7.25" fill="#e2282f" text-anchor="middle">A</text>
<text x="208.6" y="243.4" font-size="7.0" fill="#333" text-anchor="end" font-weight="normal" stroke="#333" stroke-width="0.22" >-10</text>
<line x1="210.6" y1="240.6" x2="214.6" y2="240.6" stroke="#222" stroke-width="1.3" />
<line x1="258.4" y1="313.3" x2="258.4" y2="317.5" stroke="#333" stroke-width="1.1" />
<text x="257.7" y="326.6" font-size="6.6" fill="#333" text-anchor="middle" font-weight="normal" stroke="#333" stroke-width="0.12" >+1</text>
<text x="231.3" y="214.2" font-size="7.0" fill="#e2282f" text-anchor="middle" font-weight="normal" stroke="#e2282f" stroke-width="0.1" >A (-10) Split 2</text>
<line x1="297.8" y1="305.95" x2="305.2" y2="305.95" stroke="#4a4a4a" stroke-width="1.05" />
<line x1="334.6" y1="305.95" x2="326.9" y2="305.95" stroke="#4a4a4a" stroke-width="1.05" />
<circle cx="293.4" cy="305.95" r="4.65" fill="none" stroke="#4a4a4a" stroke-width="1.1" stroke-dasharray="2.43,2.43,2.43,7.3" stroke-dashoffset="-3.65"/>
<path d="M286.1,305.95 L289.4,304.6 L289.4,307.3 Z" fill="#4a4a4a"/>
<circle cx="339" cy="305.95" r="4.65" fill="none" stroke="#4a4a4a" stroke-width="1.1" stroke-dasharray="2.43,2.43,2.43,7.3" stroke-dashoffset="-3.65"/>
<path d="M346.3,305.95 L343,304.6 L343,307.3 Z" fill="#4a4a4a"/>
<line x1="302.8" y1="241" x2="305.2" y2="252.5" stroke="#4a4a4a" stroke-width="1.05" />
<line x1="310.2" y1="229.3" x2="321.8" y2="232" stroke="#4a4a4a" stroke-width="1.05" />
<line x1="321.8" y1="232" x2="329.2" y2="241" stroke="#4a4a4a" stroke-width="1.05" />
<line x1="329.2" y1="241" x2="326.9" y2="252.5" stroke="#4a4a4a" stroke-width="1.05" />
<line x1="305.2" y1="252.5" x2="305.2" y2="265.85" stroke="#4a4a4a" stroke-width="1.05" />
<line x1="326.9" y1="252.5" x2="326.9" y2="265.85" stroke="#4a4a4a" stroke-width="1.05" />
<line x1="305.2" y1="265.85" x2="305.2" y2="279.25" stroke="#4a4a4a" stroke-width="1.05" />
<line x1="326.9" y1="265.85" x2="326.9" y2="279.25" stroke="#4a4a4a" stroke-width="1.05" />
<line x1="305.2" y1="279.25" x2="305.2" y2="292.6" stroke="#4a4a4a" stroke-width="1.05" />
<line x1="326.9" y1="279.25" x2="326.9" y2="292.6" stroke="#4a4a4a" stroke-width="1.05" />
<line x1="305.2" y1="292.6" x2="305.2" y2="305.95" stroke="#4a4a4a" stroke-width="1.05" />
<line x1="326.9" y1="292.6" x2="326.9" y2="305.95" stroke="#4a4a4a" stroke-width="1.05" />
<line x1="309.7" y1="251.45" x2="322.4" y2="251.45" stroke="#4472c4" stroke-width="0.9" />
<line x1="309.7" y1="253.55" x2="322.4" y2="253.55" stroke="#4472c4" stroke-width="0.9" />
<line x1="309.7" y1="265.85" x2="322.4" y2="265.85" stroke="#4472c4" stroke-width="1.45" />
<line x1="309.7" y1="279.25" x2="322.4" y2="279.25" stroke="#4472c4" stroke-width="1.45" />
<line x1="309.7" y1="291.55" x2="322.4" y2="291.55" stroke="#4472c4" stroke-width="0.9" />
<line x1="309.7" y1="293.65" x2="322.4" y2="293.65" stroke="#4472c4" stroke-width="0.9" />
<line x1="309.7" y1="305.95" x2="322.4" y2="305.95" stroke="#4472c4" stroke-width="1.45" />
<circle cx="305.2" cy="252.5" r="4.5" fill="#fff" stroke="#4a4a4a" stroke-width="1.15"/>
<text x="305.2" y="255.05" font-size="7.25" fill="#1e1e1e" text-anchor="middle">C</text>
<circle cx="326.9" cy="252.5" r="4.5" fill="#fff" stroke="#4a4a4a" stroke-width="1.15"/>
<text x="326.9" y="255.05" font-size="7.25" fill="#1e1e1e" text-anchor="middle">G</text>
<circle cx="305.2" cy="265.85" r="4.5" fill="#fff" stroke="#4a4a4a" stroke-width="1.15"/>
<text x="305.2" y="268.4" font-size="7.25" fill="#1e1e1e" text-anchor="middle">A</text>
<circle cx="326.9" cy="265.85" r="4.5" fill="#fff" stroke="#4a4a4a" stroke-width="1.15"/>
<text x="326.9" y="268.4" font-size="7.25" fill="#1e1e1e" text-anchor="middle">U</text>
<circle cx="305.2" cy="279.25" r="4.5" fill="#fff" stroke="#4a4a4a" stroke-width="1.15"/>
<text x="305.2" y="281.8" font-size="7.25" fill="#1e1e1e" text-anchor="middle">U</text>
<circle cx="326.9" cy="279.25" r="4.5" fill="#fff" stroke="#4a4a4a" stroke-width="1.15"/>
<text x="326.9" y="281.8" font-size="7.25" fill="#1e1e1e" text-anchor="middle">A</text>
<circle cx="305.2" cy="292.6" r="4.5" fill="#fff" stroke="#4a4a4a" stroke-width="1.15"/>
<text x="305.2" y="295.15" font-size="7.25" fill="#1e1e1e" text-anchor="middle">C</text>
<circle cx="326.9" cy="292.6" r="4.5" fill="#fff" stroke="#4a4a4a" stroke-width="1.15"/>
<text x="326.9" y="295.15" font-size="7.25" fill="#1e1e1e" text-anchor="middle">G</text>
<circle cx="305.2" cy="305.95" r="4.5" fill="#fff" stroke="#4a4a4a" stroke-width="1.15"/>
<text x="305.2" y="308.5" font-size="7.25" fill="#1e1e1e" text-anchor="middle">U</text>
<circle cx="326.9" cy="305.95" r="4.5" fill="#fff" stroke="#4a4a4a" stroke-width="1.15"/>
<text x="326.9" y="308.5" font-size="7.25" fill="#1e1e1e" text-anchor="middle">A</text>
<circle cx="310.2" cy="229.3" r="4.5" fill="#fff" stroke="#4a4a4a" stroke-width="1.3"/>
<text x="310.2" y="231.85" font-size="7.25" fill="#1e1e1e" text-anchor="middle">C</text>
<circle cx="321.8" cy="232" r="4.5" fill="#fff" stroke="#4a4a4a" stroke-width="1.15"/>
<text x="321.8" y="234.55" font-size="7.25" fill="#1e1e1e" text-anchor="middle">U</text>
<circle cx="329.2" cy="241" r="4.5" fill="#fff" stroke="#4a4a4a" stroke-width="1.15"/>
<text x="329.2" y="243.55" font-size="7.25" fill="#1e1e1e" text-anchor="middle">U</text>
<circle cx="302.8" cy="241" r="4.5" fill="#fff" stroke="#e2282f" stroke-width="1.45"/>
<text x="302.8" y="243.55" font-size="7.25" fill="#e2282f" text-anchor="middle">G</text>
<text x="289.2" y="243.4" font-size="7.0" fill="#333" text-anchor="end" font-weight="normal" stroke="#333" stroke-width="0.22" >-10</text>
<line x1="291.2" y1="240.6" x2="295.2" y2="240.6" stroke="#222" stroke-width="1.3" />
<line x1="339" y1="313.3" x2="339" y2="317.5" stroke="#333" stroke-width="1.1" />
<text x="338.3" y="326.6" font-size="6.6" fill="#333" text-anchor="middle" font-weight="normal" stroke="#333" stroke-width="0.12" >+1</text>
<text x="312" y="214.2" font-size="7.0" fill="#e2282f" text-anchor="middle" font-weight="normal" stroke="#e2282f" stroke-width="0.1" >G (-10) Split 2</text>
<text x="31.5" y="227.6" font-size="7.3" fill="#e2282f" text-anchor="middle" font-weight="normal" stroke="#e2282f" stroke-width="0.1" >Split 2</text>
<line x1="43.6" y1="225.3" x2="51.4" y2="231.1" stroke="#d8262d" stroke-width="1.2"/>
<path d="M54.2,233.2 L49.3,232.2 L51.8,228.8 Z" fill="#d8262d"/>
<text x="444.6" y="26.6" font-size="9.3" fill="#1a1a1a" text-anchor="middle" font-weight="normal" stroke="#1a1a1a" stroke-width="0.22" >DNMT1 (TTTC)</text>
<line x1="384.5" y1="125.5" x2="489" y2="125.5" stroke="#b9b9b9" stroke-width="1" />
<line x1="384.5" y1="99.5" x2="489" y2="99.5" stroke="#b9b9b9" stroke-width="1" />
<line x1="384.5" y1="74.5" x2="489" y2="74.5" stroke="#b9b9b9" stroke-width="1" />
<line x1="384.5" y1="48.5" x2="489" y2="48.5" stroke="#b9b9b9" stroke-width="1" />
<rect x="389.9" y="149.48" width="10" height="1.02" fill="#4472c4"/>
<rect x="407.4" y="49" width="9" height="101.5" fill="#fff"/>
<rect x="407.4" y="49" width="9" height="101.5" fill="url(#dB)" stroke="#4472c4" stroke-width="1"/>
<rect x="424" y="63.8" width="10" height="86.7" fill="#4472c4"/>
<rect x="441" y="141.01" width="10" height="9.49" fill="#4472c4"/>
<rect x="458" y="47.99" width="10" height="102.51" fill="#4472c4"/>
<rect x="475.2" y="63.49" width="9.9" height="87.01" fill="#4472c4"/>
<line x1="384.5" y1="48" x2="384.5" y2="151" stroke="#333" stroke-width="1" />
<line x1="384" y1="150.5" x2="489.5" y2="150.5" stroke="#333" stroke-width="1" />
<line x1="381.1" y1="150.5" x2="384.5" y2="150.5" stroke="#333" stroke-width="1" />
<line x1="381.1" y1="125" x2="384.5" y2="125" stroke="#333" stroke-width="1" />
<line x1="381.1" y1="99.5" x2="384.5" y2="99.5" stroke="#333" stroke-width="1" />
<line x1="381.1" y1="74" x2="384.5" y2="74" stroke="#333" stroke-width="1" />
<line x1="381.1" y1="48" x2="384.5" y2="48" stroke="#333" stroke-width="1" />
<line x1="394.9" y1="148.48" x2="394.9" y2="150.48" stroke="#000" stroke-width="1.3" />
<line x1="393.5" y1="148.48" x2="396.3" y2="148.48" stroke="#000" stroke-width="1.2" />
<line x1="393.5" y1="150.48" x2="396.3" y2="150.48" stroke="#000" stroke-width="1.2" />
<text x="394.9" y="147.7" font-size="8.2" fill="#000" text-anchor="middle" font-weight="bold"  >*</text>
<line x1="411.9" y1="45.44" x2="411.9" y2="51.56" stroke="#000" stroke-width="1.3" />
<line x1="410.5" y1="45.44" x2="413.3" y2="45.44" stroke="#000" stroke-width="1.2" />
<line x1="410.5" y1="51.56" x2="413.3" y2="51.56" stroke="#000" stroke-width="1.2" />
<line x1="429" y1="61.76" x2="429" y2="65.84" stroke="#000" stroke-width="1.3" />
<line x1="427.6" y1="61.76" x2="430.4" y2="61.76" stroke="#000" stroke-width="1.2" />
<line x1="427.6" y1="65.84" x2="430.4" y2="65.84" stroke="#000" stroke-width="1.2" />
<text x="429" y="58.9" font-size="8.2" fill="#000" text-anchor="middle" font-weight="bold"  >*</text>
<line x1="446" y1="139.99" x2="446" y2="142.03" stroke="#000" stroke-width="1.3" />
<line x1="444.6" y1="139.99" x2="447.4" y2="139.99" stroke="#000" stroke-width="1.2" />
<line x1="444.6" y1="142.03" x2="447.4" y2="142.03" stroke="#000" stroke-width="1.2" />
<text x="446" y="138.7" font-size="8.2" fill="#000" text-anchor="middle" font-weight="bold"  >*</text>
<line x1="463" y1="46.99" x2="463" y2="48.99" stroke="#000" stroke-width="1.3" />
<line x1="461.6" y1="46.99" x2="464.4" y2="46.99" stroke="#000" stroke-width="1.2" />
<line x1="461.6" y1="48.99" x2="464.4" y2="48.99" stroke="#000" stroke-width="1.2" />
<line x1="480.15" y1="61.25" x2="480.15" y2="65.74" stroke="#000" stroke-width="1.3" />
<line x1="478.75" y1="61.25" x2="481.55" y2="61.25" stroke="#000" stroke-width="1.2" />
<line x1="478.75" y1="65.74" x2="481.55" y2="65.74" stroke="#000" stroke-width="1.2" />
<text x="480.15" y="58.9" font-size="8.2" fill="#000" text-anchor="middle" font-weight="bold"  >*</text>
<text x="377.2" y="154.2" font-size="7.3" fill="#1a1a1a" text-anchor="end" font-weight="normal" stroke="#1a1a1a" stroke-width="0.22" >0%</text>
<text x="377.2" y="128.2" font-size="7.3" fill="#1a1a1a" text-anchor="end" font-weight="normal" stroke="#1a1a1a" stroke-width="0.22" >25%</text>
<text x="377.2" y="102.2" font-size="7.3" fill="#1a1a1a" text-anchor="end" font-weight="normal" stroke="#1a1a1a" stroke-width="0.22" >50%</text>
<text x="377.2" y="76.2" font-size="7.3" fill="#1a1a1a" text-anchor="end" font-weight="normal" stroke="#1a1a1a" stroke-width="0.22" >75%</text>
<text x="377.2" y="50.2" font-size="7.3" fill="#1a1a1a" text-anchor="end" font-weight="normal" stroke="#1a1a1a" stroke-width="0.22" >100%</text>
<text transform="translate(345,94.8) rotate(-90)" font-size="8.4" fill="#1a1a1a" stroke="#1a1a1a" stroke-width="0.22" text-anchor="middle">INDEL frequency</text>
<text transform="translate(354.4,94.8) rotate(-90)" font-size="8.4" fill="#1a1a1a" stroke="#1a1a1a" stroke-width="0.22" text-anchor="middle">normalized to crRNA</text>
<text transform="translate(399.5,158.3) rotate(-45)" font-size="7.2" fill="#1a1a1a" stroke="#1a1a1a" stroke-width="0.22" text-anchor="end">control</text>
<text transform="translate(416.5,158.3) rotate(-45)" font-size="7.2" fill="#1a1a1a" stroke="#1a1a1a" stroke-width="0.22" text-anchor="end">crRNA</text>
<text transform="translate(433.6,158.3) rotate(-45)" font-size="7.2" fill="#1a1a1a" stroke="#1a1a1a" stroke-width="0.22" text-anchor="end">Gap 1</text>
<text transform="translate(450.6,158.3) rotate(-45)" font-size="7.2" fill="#1a1a1a" stroke="#1a1a1a" stroke-width="0.22" text-anchor="end">Gap 2</text>
<text transform="translate(467.6,158.3) rotate(-45)" font-size="7.2" fill="#1a1a1a" stroke="#1a1a1a" stroke-width="0.22" text-anchor="end">Gap 3</text>
<text transform="translate(484.8,158.3) rotate(-45)" font-size="7.2" fill="#1a1a1a" stroke="#1a1a1a" stroke-width="0.22" text-anchor="end">Gap 4</text>
<text x="616.9" y="24.8" font-size="9.5" fill="#1a1a1a" text-anchor="middle" font-weight="normal" stroke="#1a1a1a" stroke-width="0.22" >PDCD1 (TTTA)</text>
<line x1="557.5" y1="125.5" x2="662.4" y2="125.5" stroke="#b9b9b9" stroke-width="1" />
<line x1="557.5" y1="99.5" x2="662.4" y2="99.5" stroke="#b9b9b9" stroke-width="1" />
<line x1="557.5" y1="74.5" x2="662.4" y2="74.5" stroke="#b9b9b9" stroke-width="1" />
<line x1="557.5" y1="48.5" x2="662.4" y2="48.5" stroke="#b9b9b9" stroke-width="1" />
<rect x="562" y="149.97" width="10.1" height="1.03" fill="#92d050"/>
<rect x="579.8" y="49" width="9.3" height="102" fill="#fff"/>
<rect x="579.8" y="49" width="9.3" height="102" fill="url(#dG)" stroke="#92d050" stroke-width="1"/>
<rect x="596.8" y="48.91" width="10" height="102.09" fill="#92d050"/>
<rect x="613.6" y="129.47" width="10.6" height="21.53" fill="#92d050"/>
<rect x="631.1" y="47.06" width="10.6" height="103.94" fill="#92d050"/>
<rect x="648.1" y="51.78" width="10.8" height="99.22" fill="#92d050"/>
<line x1="557.5" y1="48" x2="557.5" y2="151.5" stroke="#333" stroke-width="1" />
<line x1="557" y1="151" x2="662.9" y2="151" stroke="#333" stroke-width="1" />
<line x1="554.1" y1="151" x2="557.5" y2="151" stroke="#333" stroke-width="1" />
<line x1="554.1" y1="125.38" x2="557.5" y2="125.38" stroke="#333" stroke-width="1" />
<line x1="554.1" y1="99.75" x2="557.5" y2="99.75" stroke="#333" stroke-width="1" />
<line x1="554.1" y1="74.12" x2="557.5" y2="74.12" stroke="#333" stroke-width="1" />
<line x1="554.1" y1="48" x2="557.5" y2="48" stroke="#333" stroke-width="1" />
<text x="567.05" y="148.2" font-size="8.2" fill="#000" text-anchor="middle" font-weight="bold"  >*</text>
<line x1="584.45" y1="46.96" x2="584.45" y2="50.04" stroke="#000" stroke-width="1.3" />
<line x1="583.05" y1="46.96" x2="585.85" y2="46.96" stroke="#000" stroke-width="1.2" />
<line x1="583.05" y1="50.04" x2="585.85" y2="50.04" stroke="#000" stroke-width="1.2" />
<line x1="601.8" y1="47.89" x2="601.8" y2="49.94" stroke="#000" stroke-width="1.3" />
<line x1="600.4" y1="47.89" x2="603.2" y2="47.89" stroke="#000" stroke-width="1.2" />
<line x1="600.4" y1="49.94" x2="603.2" y2="49.94" stroke="#000" stroke-width="1.2" />
<line x1="618.9" y1="128.25" x2="618.9" y2="130.7" stroke="#000" stroke-width="1.3" />
<line x1="617.5" y1="128.25" x2="620.3" y2="128.25" stroke="#000" stroke-width="1.2" />
<line x1="617.5" y1="130.7" x2="620.3" y2="130.7" stroke="#000" stroke-width="1.2" />
<text x="618.9" y="125.6" font-size="8.2" fill="#000" text-anchor="middle" font-weight="bold"  >*</text>
<line x1="636.4" y1="46.06" x2="636.4" y2="48.06" stroke="#000" stroke-width="1.3" />
<line x1="635" y1="46.06" x2="637.8" y2="46.06" stroke="#000" stroke-width="1.2" />
<line x1="635" y1="48.06" x2="637.8" y2="48.06" stroke="#000" stroke-width="1.2" />
<line x1="653.5" y1="50.55" x2="653.5" y2="53.01" stroke="#000" stroke-width="1.3" />
<line x1="652.1" y1="50.55" x2="654.9" y2="50.55" stroke="#000" stroke-width="1.2" />
<line x1="652.1" y1="53.01" x2="654.9" y2="53.01" stroke="#000" stroke-width="1.2" />
<text x="549.6" y="154.6" font-size="7.3" fill="#1a1a1a" text-anchor="end" font-weight="normal" stroke="#1a1a1a" stroke-width="0.22" >0%</text>
<text x="549.6" y="128.6" font-size="7.3" fill="#1a1a1a" text-anchor="end" font-weight="normal" stroke="#1a1a1a" stroke-width="0.22" >25%</text>
<text x="549.6" y="102.6" font-size="7.3" fill="#1a1a1a" text-anchor="end" font-weight="normal" stroke="#1a1a1a" stroke-width="0.22" >50%</text>
<text x="549.6" y="76.6" font-size="7.3" fill="#1a1a1a" text-anchor="end" font-weight="normal" stroke="#1a1a1a" stroke-width="0.22" >75%</text>
<text x="549.6" y="50.6" font-size="7.3" fill="#1a1a1a" text-anchor="end" font-weight="normal" stroke="#1a1a1a" stroke-width="0.22" >100%</text>
<text transform="translate(516.9,94.8) rotate(-90)" font-size="8.4" fill="#1a1a1a" stroke="#1a1a1a" stroke-width="0.22" text-anchor="middle">INDEL frequency</text>
<text transform="translate(526.6,94.8) rotate(-90)" font-size="8.4" fill="#1a1a1a" stroke="#1a1a1a" stroke-width="0.22" text-anchor="middle">normalized to crRNA</text>
<text transform="translate(572.3,158.3) rotate(-45)" font-size="7.2" fill="#1a1a1a" stroke="#1a1a1a" stroke-width="0.22" text-anchor="end">control</text>
<text transform="translate(589.3,158.3) rotate(-45)" font-size="7.2" fill="#1a1a1a" stroke="#1a1a1a" stroke-width="0.22" text-anchor="end">crRNA</text>
<text transform="translate(606.6,158.3) rotate(-45)" font-size="7.2" fill="#1a1a1a" stroke="#1a1a1a" stroke-width="0.22" text-anchor="end">Gap 1</text>
<text transform="translate(623.7,158.3) rotate(-45)" font-size="7.2" fill="#1a1a1a" stroke="#1a1a1a" stroke-width="0.22" text-anchor="end">Gap 2</text>
<text transform="translate(641.2,158.3) rotate(-45)" font-size="7.2" fill="#1a1a1a" stroke="#1a1a1a" stroke-width="0.22" text-anchor="end">Gap 3</text>
<text transform="translate(658.2,158.3) rotate(-45)" font-size="7.2" fill="#1a1a1a" stroke="#1a1a1a" stroke-width="0.22" text-anchor="end">Gap 4</text>
<text x="478.8" y="197" font-size="9.3" fill="#1a1a1a" text-anchor="middle" font-weight="normal" stroke="#1a1a1a" stroke-width="0.22" >DNMT1</text>
<line x1="422.5" y1="295.5" x2="547" y2="295.5" stroke="#b9b9b9" stroke-width="1" />
<line x1="422.5" y1="269.5" x2="547" y2="269.5" stroke="#b9b9b9" stroke-width="1" />
<line x1="422.5" y1="244.5" x2="547" y2="244.5" stroke="#b9b9b9" stroke-width="1" />
<line x1="422.5" y1="218.5" x2="547" y2="218.5" stroke="#b9b9b9" stroke-width="1" />
<rect x="427.7" y="319.98" width="8.4" height="1.02" fill="#4472c4"/>
<rect x="441.6" y="219" width="7.5" height="102" fill="#fff"/>
<rect x="441.6" y="219" width="7.5" height="102" fill="url(#dB)" stroke="#4472c4" stroke-width="1"/>
<rect x="454.5" y="235.31" width="8.3" height="85.69" fill="#4472c4"/>
<rect x="468.5" y="241.96" width="7.3" height="79.04" fill="#fff"/>
<rect x="468.5" y="241.96" width="7.3" height="79.04" fill="url(#hB)" stroke="#4472c4" stroke-width="1"/>
<rect x="481.3" y="260.52" width="8.6" height="60.48" fill="#4472c4"/>
<rect x="494.9" y="251.08" width="7.7" height="69.92" fill="#fff"/>
<rect x="494.9" y="251.08" width="7.7" height="69.92" fill="url(#hB)" stroke="#4472c4" stroke-width="1"/>
<rect x="507.9" y="290.25" width="8.6" height="30.75" fill="#4472c4"/>
<rect x="521.8" y="281.83" width="7.5" height="39.17" fill="#fff"/>
<rect x="521.8" y="281.83" width="7.5" height="39.17" fill="url(#hB)" stroke="#4472c4" stroke-width="1"/>
<rect x="535" y="300.5" width="8.7" height="20.5" fill="#4472c4"/>
<line x1="422.5" y1="218" x2="422.5" y2="321.5" stroke="#333" stroke-width="1" />
<line x1="422" y1="321" x2="547.5" y2="321" stroke="#333" stroke-width="1" />
<line x1="419.1" y1="321" x2="422.5" y2="321" stroke="#333" stroke-width="1" />
<line x1="419.1" y1="295.38" x2="422.5" y2="295.38" stroke="#333" stroke-width="1" />
<line x1="419.1" y1="269.75" x2="422.5" y2="269.75" stroke="#333" stroke-width="1" />
<line x1="419.1" y1="244.12" x2="422.5" y2="244.12" stroke="#333" stroke-width="1" />
<line x1="419.1" y1="218" x2="422.5" y2="218" stroke="#333" stroke-width="1" />
<text x="431.9" y="317.7" font-size="8.2" fill="#000" text-anchor="middle" font-weight="bold"  >*</text>
<line x1="445.35" y1="217.5" x2="445.35" y2="219.5" stroke="#000" stroke-width="1.3" />
<line x1="443.95" y1="217.5" x2="446.75" y2="217.5" stroke="#000" stroke-width="1.2" />
<line x1="443.95" y1="219.5" x2="446.75" y2="219.5" stroke="#000" stroke-width="1.2" />
<line x1="458.65" y1="234.28" x2="458.65" y2="236.34" stroke="#000" stroke-width="1.3" />
<line x1="457.25" y1="234.28" x2="460.05" y2="234.28" stroke="#000" stroke-width="1.2" />
<line x1="457.25" y1="236.34" x2="460.05" y2="236.34" stroke="#000" stroke-width="1.2" />
<text x="458.65" y="233.2" font-size="8.2" fill="#000" text-anchor="middle" font-weight="bold"  >*</text>
<line x1="472.15" y1="240.46" x2="472.15" y2="242.46" stroke="#000" stroke-width="1.3" />
<line x1="470.75" y1="240.46" x2="473.55" y2="240.46" stroke="#000" stroke-width="1.2" />
<line x1="470.75" y1="242.46" x2="473.55" y2="242.46" stroke="#000" stroke-width="1.2" />
<text x="472.15" y="240" font-size="8.2" fill="#000" text-anchor="middle" font-weight="bold"  >*</text>
<line x1="485.6" y1="259.52" x2="485.6" y2="261.52" stroke="#000" stroke-width="1.3" />
<line x1="484.2" y1="259.52" x2="487" y2="259.52" stroke="#000" stroke-width="1.2" />
<line x1="484.2" y1="261.52" x2="487" y2="261.52" stroke="#000" stroke-width="1.2" />
<text x="485.6" y="258.9" font-size="8.2" fill="#000" text-anchor="middle" font-weight="bold"  >*</text>
<line x1="498.75" y1="249.58" x2="498.75" y2="251.58" stroke="#000" stroke-width="1.3" />
<line x1="497.35" y1="249.58" x2="500.15" y2="249.58" stroke="#000" stroke-width="1.2" />
<line x1="497.35" y1="251.58" x2="500.15" y2="251.58" stroke="#000" stroke-width="1.2" />
<text x="498.75" y="250.2" font-size="8.2" fill="#000" text-anchor="middle" font-weight="bold"  >*</text>
<line x1="512.2" y1="289.25" x2="512.2" y2="291.25" stroke="#000" stroke-width="1.3" />
<line x1="510.8" y1="289.25" x2="513.6" y2="289.25" stroke="#000" stroke-width="1.2" />
<line x1="510.8" y1="291.25" x2="513.6" y2="291.25" stroke="#000" stroke-width="1.2" />
<text x="512.2" y="289.1" font-size="8.2" fill="#000" text-anchor="middle" font-weight="bold"  >*</text>
<line x1="525.55" y1="280.33" x2="525.55" y2="282.33" stroke="#000" stroke-width="1.3" />
<line x1="524.15" y1="280.33" x2="526.95" y2="280.33" stroke="#000" stroke-width="1.2" />
<line x1="524.15" y1="282.33" x2="526.95" y2="282.33" stroke="#000" stroke-width="1.2" />
<text x="525.55" y="280.2" font-size="8.2" fill="#000" text-anchor="middle" font-weight="bold"  >*</text>
<line x1="539.35" y1="299.5" x2="539.35" y2="301.5" stroke="#000" stroke-width="1.3" />
<line x1="537.95" y1="299.5" x2="540.75" y2="299.5" stroke="#000" stroke-width="1.2" />
<line x1="537.95" y1="301.5" x2="540.75" y2="301.5" stroke="#000" stroke-width="1.2" />
<text x="539.35" y="298.2" font-size="8.2" fill="#000" text-anchor="middle" font-weight="bold"  >*</text>
<text x="415.8" y="324.2" font-size="7.3" fill="#1a1a1a" text-anchor="end" font-weight="normal" stroke="#1a1a1a" stroke-width="0.22" >0%</text>
<text x="415.8" y="298.48" font-size="7.3" fill="#1a1a1a" text-anchor="end" font-weight="normal" stroke="#1a1a1a" stroke-width="0.22" >25%</text>
<text x="415.8" y="272.75" font-size="7.3" fill="#1a1a1a" text-anchor="end" font-weight="normal" stroke="#1a1a1a" stroke-width="0.22" >50%</text>
<text x="415.8" y="247.03" font-size="7.3" fill="#1a1a1a" text-anchor="end" font-weight="normal" stroke="#1a1a1a" stroke-width="0.22" >75%</text>
<text x="415.8" y="221.3" font-size="7.3" fill="#1a1a1a" text-anchor="end" font-weight="normal" stroke="#1a1a1a" stroke-width="0.22" >100%</text>
<text transform="translate(384.6,266) rotate(-90)" font-size="8.4" fill="#1a1a1a" stroke="#1a1a1a" stroke-width="0.22" text-anchor="middle">INDEL frequency</text>
<text transform="translate(394.2,266) rotate(-90)" font-size="8.4" fill="#1a1a1a" stroke="#1a1a1a" stroke-width="0.22" text-anchor="middle">normalized to crRNA</text>
<text transform="translate(434.4,327.9) rotate(-45)" font-size="6.9" fill="#1a1a1a" stroke="#1a1a1a" stroke-width="0.22" text-anchor="end">control</text>
<text transform="translate(448,327.9) rotate(-45)" font-size="6.9" fill="#1a1a1a" stroke="#1a1a1a" stroke-width="0.22" text-anchor="end">crRNA</text>
<text transform="translate(461.4,327.9) rotate(-45)" font-size="6.9" fill="#1a1a1a" stroke="#1a1a1a" stroke-width="0.22" text-anchor="end">Split 2</text>
<text transform="translate(474.9,327.9) rotate(-45)" font-size="6.9" fill="#1a1a1a" stroke="#1a1a1a" stroke-width="0.22" text-anchor="end">C (-10) crRNA</text>
<text transform="translate(488.4,327.9) rotate(-45)" font-size="6.9" fill="#1a1a1a" stroke="#1a1a1a" stroke-width="0.22" text-anchor="end">C (-10) Split 2</text>
<text transform="translate(501.5,327.9) rotate(-45)" font-size="6.9" fill="#1a1a1a" stroke="#1a1a1a" stroke-width="0.22" text-anchor="end">A (-10) crRNA</text>
<text transform="translate(515,327.9) rotate(-45)" font-size="6.9" fill="#1a1a1a" stroke="#1a1a1a" stroke-width="0.22" text-anchor="end">A (-10) Split 2</text>
<text transform="translate(528.3,327.9) rotate(-45)" font-size="6.9" fill="#1a1a1a" stroke="#1a1a1a" stroke-width="0.22" text-anchor="end">G (-10) crRNA</text>
<text transform="translate(542.1,327.9) rotate(-45)" font-size="6.9" fill="#1a1a1a" stroke="#1a1a1a" stroke-width="0.22" text-anchor="end">G (-10) Split 2</text>
<text x="149.8" y="386.5" font-size="9.3" fill="#1a1a1a" text-anchor="middle" font-weight="normal" stroke="#1a1a1a" stroke-width="0.22" >DNMT1 (TTTC)</text>
<rect x="119.7" y="401.2" width="3.8" height="3.8" fill="url(#dB)" stroke="#4472c4" stroke-width="0.8"/>
<text x="126" y="405" font-size="7.3" fill="#1a1a1a" text-anchor="start" font-weight="normal" stroke="#1a1a1a" stroke-width="0.22" >crRNA</text>
<rect x="156.0" y="401.2" width="3.8" height="3.8" fill="#4472c4"/>
<text x="162" y="405" font-size="7.3" fill="#1a1a1a" text-anchor="start" font-weight="normal" stroke="#1a1a1a" stroke-width="0.22" >Split</text>
<line x1="85.5" y1="515.5" x2="216.3" y2="515.5" stroke="#b9b9b9" stroke-width="1" />
<line x1="85.5" y1="489.5" x2="216.3" y2="489.5" stroke="#b9b9b9" stroke-width="1" />
<line x1="85.5" y1="463.5" x2="216.3" y2="463.5" stroke="#b9b9b9" stroke-width="1" />
<line x1="85.5" y1="438.5" x2="216.3" y2="438.5" stroke="#b9b9b9" stroke-width="1" />
<rect x="94.7" y="438.7" width="7.4" height="101.9" fill="#fff"/>
<rect x="94.7" y="438.7" width="7.4" height="101.9" fill="url(#dB)" stroke="#4472c4" stroke-width="1"/>
<rect x="103.8" y="446.8" width="8.1" height="93.8" fill="#4472c4"/>
<rect x="127.1" y="427.44" width="7.2" height="113.16" fill="#fff"/>
<rect x="127.1" y="427.44" width="7.2" height="113.16" fill="url(#dB)" stroke="#4472c4" stroke-width="1"/>
<rect x="136.4" y="500.66" width="8" height="39.94" fill="#4472c4"/>
<rect x="159" y="420.27" width="7.4" height="120.33" fill="#fff"/>
<rect x="159" y="420.27" width="7.4" height="120.33" fill="url(#dB)" stroke="#4472c4" stroke-width="1"/>
<rect x="168.3" y="420.08" width="8.5" height="120.52" fill="#4472c4"/>
<rect x="191.4" y="458.36" width="7.3" height="82.24" fill="#fff"/>
<rect x="191.4" y="458.36" width="7.3" height="82.24" fill="url(#ckB)" stroke="#4472c4" stroke-width="1"/>
<rect x="200.2" y="532.41" width="8.3" height="8.19" fill="#4472c4"/>
<line x1="85.5" y1="437.7" x2="85.5" y2="541.1" stroke="#333" stroke-width="1" />
<line x1="85" y1="540.6" x2="216.8" y2="540.6" stroke="#333" stroke-width="1" />
<line x1="82.1" y1="540.6" x2="85.5" y2="540.6" stroke="#333" stroke-width="1" />
<line x1="82.1" y1="515" x2="85.5" y2="515" stroke="#333" stroke-width="1" />
<line x1="82.1" y1="489.4" x2="85.5" y2="489.4" stroke="#333" stroke-width="1" />
<line x1="82.1" y1="463.8" x2="85.5" y2="463.8" stroke="#333" stroke-width="1" />
<line x1="82.1" y1="437.7" x2="85.5" y2="437.7" stroke="#333" stroke-width="1" />
<line x1="98.4" y1="436.66" x2="98.4" y2="439.74" stroke="#000" stroke-width="1.3" />
<line x1="97" y1="436.66" x2="99.8" y2="436.66" stroke="#000" stroke-width="1.2" />
<line x1="97" y1="439.74" x2="99.8" y2="439.74" stroke="#000" stroke-width="1.2" />
<line x1="107.85" y1="444.75" x2="107.85" y2="448.85" stroke="#000" stroke-width="1.3" />
<line x1="106.45" y1="444.75" x2="109.25" y2="444.75" stroke="#000" stroke-width="1.2" />
<line x1="106.45" y1="448.85" x2="109.25" y2="448.85" stroke="#000" stroke-width="1.2" />
<line x1="130.7" y1="424.89" x2="130.7" y2="428.98" stroke="#000" stroke-width="1.3" />
<line x1="129.3" y1="424.89" x2="132.1" y2="424.89" stroke="#000" stroke-width="1.2" />
<line x1="129.3" y1="428.98" x2="132.1" y2="428.98" stroke="#000" stroke-width="1.2" />
<line x1="140.4" y1="497.08" x2="140.4" y2="504.25" stroke="#000" stroke-width="1.3" />
<line x1="139" y1="497.08" x2="141.8" y2="497.08" stroke="#000" stroke-width="1.2" />
<line x1="139" y1="504.25" x2="141.8" y2="504.25" stroke="#000" stroke-width="1.2" />
<text x="140.4" y="495.5" font-size="8.2" fill="#000" text-anchor="middle" font-weight="bold"  >*</text>
<line x1="162.7" y1="418.74" x2="162.7" y2="420.79" stroke="#000" stroke-width="1.3" />
<line x1="161.3" y1="418.74" x2="164.1" y2="418.74" stroke="#000" stroke-width="1.2" />
<line x1="161.3" y1="420.79" x2="164.1" y2="420.79" stroke="#000" stroke-width="1.2" />
<text x="162.7" y="416.3" font-size="8.2" fill="#000" text-anchor="middle" font-weight="bold"  >*</text>
<line x1="172.55" y1="419.05" x2="172.55" y2="421.1" stroke="#000" stroke-width="1.3" />
<line x1="171.15" y1="419.05" x2="173.95" y2="419.05" stroke="#000" stroke-width="1.2" />
<line x1="171.15" y1="421.1" x2="173.95" y2="421.1" stroke="#000" stroke-width="1.2" />
<text x="172.55" y="416.3" font-size="8.2" fill="#000" text-anchor="middle" font-weight="bold"  >*</text>
<line x1="195.05" y1="456.86" x2="195.05" y2="458.86" stroke="#000" stroke-width="1.3" />
<line x1="193.65" y1="456.86" x2="196.45" y2="456.86" stroke="#000" stroke-width="1.2" />
<line x1="193.65" y1="458.86" x2="196.45" y2="458.86" stroke="#000" stroke-width="1.2" />
<text x="195.05" y="455.4" font-size="8.2" fill="#000" text-anchor="middle" font-weight="bold"  >*</text>
<line x1="204.35" y1="531.41" x2="204.35" y2="533.41" stroke="#000" stroke-width="1.3" />
<line x1="202.95" y1="531.41" x2="205.75" y2="531.41" stroke="#000" stroke-width="1.2" />
<line x1="202.95" y1="533.41" x2="205.75" y2="533.41" stroke="#000" stroke-width="1.2" />
<text x="204.35" y="529.8" font-size="8.2" fill="#000" text-anchor="middle" font-weight="bold"  >*</text>
<text x="77" y="544.7" font-size="7.3" fill="#1a1a1a" text-anchor="end" font-weight="normal" stroke="#1a1a1a" stroke-width="0.22" >0%</text>
<text x="77" y="518.75" font-size="7.3" fill="#1a1a1a" text-anchor="end" font-weight="normal" stroke="#1a1a1a" stroke-width="0.22" >25%</text>
<text x="77" y="492.8" font-size="7.3" fill="#1a1a1a" text-anchor="end" font-weight="normal" stroke="#1a1a1a" stroke-width="0.22" >50%</text>
<text x="77" y="466.85" font-size="7.3" fill="#1a1a1a" text-anchor="end" font-weight="normal" stroke="#1a1a1a" stroke-width="0.22" >75%</text>
<text x="77" y="440.9" font-size="7.3" fill="#1a1a1a" text-anchor="end" font-weight="normal" stroke="#1a1a1a" stroke-width="0.22" >100%</text>
<text transform="translate(40,489.2) rotate(-90)" font-size="8.3" fill="#1a1a1a" stroke="#1a1a1a" stroke-width="0.22" text-anchor="middle">INDEL frequency</text>
<text transform="translate(49.6,489.2) rotate(-90)" font-size="8.3" fill="#1a1a1a" stroke="#1a1a1a" stroke-width="0.22" text-anchor="middle">normalized to MAD7 with crRNA</text>
<text transform="translate(105.7,547.7) rotate(-45)" font-size="6.9" fill="#1a1a1a" stroke="#1a1a1a" stroke-width="0.22" text-anchor="end">MAD7</text>
<text transform="translate(138,547.7) rotate(-45)" font-size="6.9" fill="#1a1a1a" stroke="#1a1a1a" stroke-width="0.22" text-anchor="end">AsCas12a V3</text>
<text transform="translate(170.5,547.7) rotate(-45)" font-size="6.9" fill="#1a1a1a" stroke="#1a1a1a" stroke-width="0.22" text-anchor="end">AsCas12a Ultra</text>
<text transform="translate(202.6,547.7) rotate(-45)" font-size="6.9" fill="#1a1a1a" stroke="#1a1a1a" stroke-width="0.22" text-anchor="end">LbCas12a</text>
<text x="395.3" y="387.8" font-size="9.3" fill="#1a1a1a" text-anchor="middle" font-weight="normal" stroke="#1a1a1a" stroke-width="0.22" >PDCD1 (TTTA)</text>
<rect x="366.3" y="406.0" width="3.6" height="3.6" fill="url(#dG)" stroke="#92d050" stroke-width="0.8"/>
<text x="372.3" y="410.4" font-size="7.3" fill="#1a1a1a" text-anchor="start" font-weight="normal" stroke="#1a1a1a" stroke-width="0.22" >crRNA</text>
<rect x="403.8" y="406.0" width="3.6" height="3.6" fill="#92d050"/>
<text x="409.8" y="410.4" font-size="7.3" fill="#1a1a1a" text-anchor="start" font-weight="normal" stroke="#1a1a1a" stroke-width="0.22" >Split</text>
<line x1="332.5" y1="514.5" x2="465.5" y2="514.5" stroke="#b9b9b9" stroke-width="1" />
<line x1="332.5" y1="489.5" x2="465.5" y2="489.5" stroke="#b9b9b9" stroke-width="1" />
<line x1="332.5" y1="463.5" x2="465.5" y2="463.5" stroke="#b9b9b9" stroke-width="1" />
<line x1="332.5" y1="437.5" x2="465.5" y2="437.5" stroke="#b9b9b9" stroke-width="1" />
<rect x="341.5" y="438.41" width="7.9" height="102.09" fill="#fff"/>
<rect x="341.5" y="438.41" width="7.9" height="102.09" fill="url(#dG)" stroke="#92d050" stroke-width="1"/>
<rect x="351.2" y="440.18" width="8" height="100.32" fill="#92d050"/>
<rect x="374.1" y="434.91" width="8.2" height="105.59" fill="#fff"/>
<rect x="374.1" y="434.91" width="8.2" height="105.59" fill="url(#dG)" stroke="#92d050" stroke-width="1"/>
<rect x="383.9" y="517.12" width="8" height="23.38" fill="#92d050"/>
<rect x="407.3" y="429.76" width="7.6" height="110.74" fill="#fff"/>
<rect x="407.3" y="429.76" width="7.6" height="110.74" fill="url(#dG)" stroke="#92d050" stroke-width="1"/>
<rect x="417.1" y="432.35" width="8" height="108.15" fill="#92d050"/>
<rect x="440.6" y="477.14" width="6.7" height="63.36" fill="#fff"/>
<rect x="440.6" y="477.14" width="6.7" height="63.36" fill="url(#ckG)" stroke="#92d050" stroke-width="1"/>
<rect x="450.5" y="495.27" width="6.9" height="45.23" fill="#fff"/>
<rect x="450.5" y="495.27" width="6.9" height="45.23" fill="url(#ckG2)" stroke="#92d050" stroke-width="1"/>
<line x1="332.5" y1="437" x2="332.5" y2="541" stroke="#333" stroke-width="1" />
<line x1="332" y1="540.5" x2="466" y2="540.5" stroke="#333" stroke-width="1" />
<line x1="329.1" y1="540.5" x2="332.5" y2="540.5" stroke="#333" stroke-width="1" />
<line x1="329.1" y1="514.75" x2="332.5" y2="514.75" stroke="#333" stroke-width="1" />
<line x1="329.1" y1="489" x2="332.5" y2="489" stroke="#333" stroke-width="1" />
<line x1="329.1" y1="463.25" x2="332.5" y2="463.25" stroke="#333" stroke-width="1" />
<line x1="329.1" y1="437" x2="332.5" y2="437" stroke="#333" stroke-width="1" />
<line x1="345.45" y1="436.88" x2="345.45" y2="438.94" stroke="#000" stroke-width="1.3" />
<line x1="344.05" y1="436.88" x2="346.85" y2="436.88" stroke="#000" stroke-width="1.2" />
<line x1="344.05" y1="438.94" x2="346.85" y2="438.94" stroke="#000" stroke-width="1.2" />
<line x1="355.2" y1="434" x2="355.2" y2="446.36" stroke="#000" stroke-width="1.3" />
<line x1="353.8" y1="434" x2="356.6" y2="434" stroke="#000" stroke-width="1.2" />
<line x1="353.8" y1="446.36" x2="356.6" y2="446.36" stroke="#000" stroke-width="1.2" />
<line x1="378.2" y1="433.07" x2="378.2" y2="435.75" stroke="#000" stroke-width="1.3" />
<line x1="376.8" y1="433.07" x2="379.6" y2="433.07" stroke="#000" stroke-width="1.2" />
<line x1="376.8" y1="435.75" x2="379.6" y2="435.75" stroke="#000" stroke-width="1.2" />
<line x1="387.9" y1="508.36" x2="387.9" y2="525.87" stroke="#000" stroke-width="1.3" />
<line x1="386.5" y1="508.36" x2="389.3" y2="508.36" stroke="#000" stroke-width="1.2" />
<line x1="386.5" y1="525.87" x2="389.3" y2="525.87" stroke="#000" stroke-width="1.2" />
<text x="387.9" y="507" font-size="8.2" fill="#000" text-anchor="middle" font-weight="bold"  >*</text>
<line x1="411.1" y1="428.26" x2="411.1" y2="430.26" stroke="#000" stroke-width="1.3" />
<line x1="409.7" y1="428.26" x2="412.5" y2="428.26" stroke="#000" stroke-width="1.2" />
<line x1="409.7" y1="430.26" x2="412.5" y2="430.26" stroke="#000" stroke-width="1.2" />
<line x1="421.1" y1="431.01" x2="421.1" y2="433.69" stroke="#000" stroke-width="1.3" />
<line x1="419.7" y1="431.01" x2="422.5" y2="431.01" stroke="#000" stroke-width="1.2" />
<line x1="419.7" y1="433.69" x2="422.5" y2="433.69" stroke="#000" stroke-width="1.2" />
<line x1="443.95" y1="475.64" x2="443.95" y2="477.64" stroke="#000" stroke-width="1.3" />
<line x1="442.55" y1="475.64" x2="445.35" y2="475.64" stroke="#000" stroke-width="1.2" />
<line x1="442.55" y1="477.64" x2="445.35" y2="477.64" stroke="#000" stroke-width="1.2" />
<text x="443.95" y="475.4" font-size="8.2" fill="#000" text-anchor="middle" font-weight="bold"  >*</text>
<line x1="453.95" y1="493.77" x2="453.95" y2="495.77" stroke="#000" stroke-width="1.3" />
<line x1="452.55" y1="493.77" x2="455.35" y2="493.77" stroke="#000" stroke-width="1.2" />
<line x1="452.55" y1="495.77" x2="455.35" y2="495.77" stroke="#000" stroke-width="1.2" />
<text x="453.95" y="493.2" font-size="8.2" fill="#000" text-anchor="middle" font-weight="bold"  >*</text>
<text x="324.4" y="544.6" font-size="7.3" fill="#1a1a1a" text-anchor="end" font-weight="normal" stroke="#1a1a1a" stroke-width="0.22" >0%</text>
<text x="324.4" y="518.5" font-size="7.3" fill="#1a1a1a" text-anchor="end" font-weight="normal" stroke="#1a1a1a" stroke-width="0.22" >25%</text>
<text x="324.4" y="492.4" font-size="7.3" fill="#1a1a1a" text-anchor="end" font-weight="normal" stroke="#1a1a1a" stroke-width="0.22" >50%</text>
<text x="324.4" y="466.3" font-size="7.3" fill="#1a1a1a" text-anchor="end" font-weight="normal" stroke="#1a1a1a" stroke-width="0.22" >75%</text>
<text x="324.4" y="440.2" font-size="7.3" fill="#1a1a1a" text-anchor="end" font-weight="normal" stroke="#1a1a1a" stroke-width="0.22" >100%</text>
<text transform="translate(284.6,492.6) rotate(-90)" font-size="8.3" fill="#1a1a1a" stroke="#1a1a1a" stroke-width="0.22" text-anchor="middle">INDEL frequency</text>
<text transform="translate(294.2,492.6) rotate(-90)" font-size="8.3" fill="#1a1a1a" stroke="#1a1a1a" stroke-width="0.22" text-anchor="middle">normalized to MAD7 with crRNA</text>
<text transform="translate(353.5,547.5) rotate(-45)" font-size="6.9" fill="#1a1a1a" stroke="#1a1a1a" stroke-width="0.22" text-anchor="end">MAD7</text>
<text transform="translate(385.8,547.5) rotate(-45)" font-size="6.9" fill="#1a1a1a" stroke="#1a1a1a" stroke-width="0.22" text-anchor="end">AsCas12a V3</text>
<text transform="translate(419,547.5) rotate(-45)" font-size="6.9" fill="#1a1a1a" stroke="#1a1a1a" stroke-width="0.22" text-anchor="end">AsCas12a Ultra</text>
<text transform="translate(450.3,547.5) rotate(-45)" font-size="6.9" fill="#1a1a1a" stroke="#1a1a1a" stroke-width="0.22" text-anchor="end">LbCas12a</text>
</svg>
</body></html>
